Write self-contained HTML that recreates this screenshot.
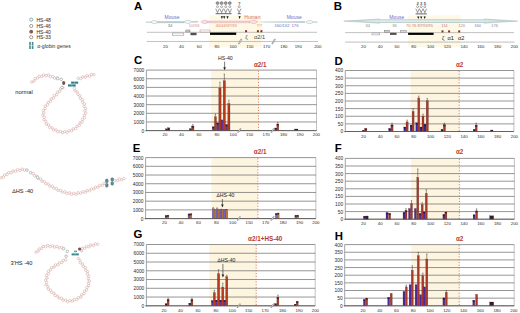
<!DOCTYPE html>
<html><head><meta charset="utf-8"><style>
html,body{margin:0;padding:0;background:#fff;overflow:hidden;}
svg{display:block;}
</style></head><body>
<svg width="520" height="313" viewBox="0 0 520 313" font-family='"Liberation Sans", sans-serif'>
<rect x="0.00" y="0.00" width="520.00" height="313.00" fill="#fff" />
<rect x="211.00" y="70.10" width="47.50" height="60.50" fill="#fdf5e0" />
<line x1="146.40" y1="70.10" x2="316.50" y2="70.10" stroke="rgba(80,80,80,0.6)" stroke-width="1.0" />
<line x1="146.40" y1="78.74" x2="316.50" y2="78.74" stroke="rgba(80,80,80,0.6)" stroke-width="1.0" />
<line x1="146.40" y1="87.39" x2="316.50" y2="87.39" stroke="rgba(80,80,80,0.6)" stroke-width="1.0" />
<line x1="146.40" y1="96.03" x2="316.50" y2="96.03" stroke="rgba(80,80,80,0.6)" stroke-width="1.0" />
<line x1="146.40" y1="104.67" x2="316.50" y2="104.67" stroke="rgba(80,80,80,0.6)" stroke-width="1.0" />
<line x1="146.40" y1="113.31" x2="316.50" y2="113.31" stroke="rgba(80,80,80,0.6)" stroke-width="1.0" />
<line x1="146.40" y1="121.96" x2="316.50" y2="121.96" stroke="rgba(80,80,80,0.6)" stroke-width="1.0" />
<line x1="146.40" y1="130.60" x2="316.50" y2="130.60" stroke="rgba(80,80,80,0.6)" stroke-width="1.0" />
<line x1="316.50" y1="70.10" x2="316.50" y2="130.60" stroke="rgba(80,80,80,0.6)" stroke-width="0.6" />
<line x1="258.50" y1="70.60" x2="258.50" y2="130.60" stroke="#d87850" stroke-width="0.9" stroke-dasharray="1.2,1.6"/>
<rect x="165.40" y="128.80" width="2.20" height="1.80" fill="#3a1e30" stroke="#3a1a1a" stroke-width="0.3" stroke-opacity="0.7"/>
<rect x="167.60" y="127.80" width="2.20" height="2.80" fill="#3a1e30" stroke="#3a1a1a" stroke-width="0.3" stroke-opacity="0.7"/>
<rect x="189.40" y="128.60" width="2.20" height="2.00" fill="#3a1e30" stroke="#3a1a1a" stroke-width="0.3" stroke-opacity="0.7"/>
<rect x="191.60" y="126.00" width="2.40" height="4.60" fill="#b43a1e" stroke="#3a1a1a" stroke-width="0.3" stroke-opacity="0.7"/>
<rect x="191.60" y="126.00" width="2.40" height="1.60" fill="#2a1418" opacity="0.75"/>
<line x1="192.80" y1="124.50" x2="192.80" y2="126.00" stroke="#333" stroke-width="0.5" />
<line x1="192.10" y1="124.50" x2="193.50" y2="124.50" stroke="#333" stroke-width="0.4" />
<rect x="212.30" y="126.80" width="2.20" height="3.80" fill="#62309f" stroke="#3a1a1a" stroke-width="0.3" stroke-opacity="0.7"/>
<rect x="212.30" y="126.80" width="2.20" height="1.60" fill="#2a1418" opacity="0.75"/>
<rect x="214.40" y="116.80" width="2.10" height="13.80" fill="#b43a1e" stroke="#3a1a1a" stroke-width="0.3" stroke-opacity="0.7"/>
<line x1="215.45" y1="114.00" x2="215.45" y2="116.80" stroke="#333" stroke-width="0.5" />
<line x1="214.75" y1="114.00" x2="216.15" y2="114.00" stroke="#333" stroke-width="0.4" />
<rect x="216.60" y="122.90" width="2.20" height="7.70" fill="#62309f" stroke="#3a1a1a" stroke-width="0.3" stroke-opacity="0.7"/>
<rect x="216.60" y="122.90" width="2.20" height="1.60" fill="#2a1418" opacity="0.75"/>
<rect x="218.80" y="88.10" width="2.30" height="42.50" fill="#b43a1e" stroke="#3a1a1a" stroke-width="0.3" stroke-opacity="0.7"/>
<line x1="219.95" y1="82.10" x2="219.95" y2="88.10" stroke="#333" stroke-width="0.5" />
<line x1="219.25" y1="82.10" x2="220.65" y2="82.10" stroke="#333" stroke-width="0.4" />
<rect x="221.00" y="119.90" width="2.20" height="10.70" fill="#62309f" stroke="#3a1a1a" stroke-width="0.3" stroke-opacity="0.7"/>
<rect x="223.20" y="80.70" width="2.30" height="49.90" fill="#b43a1e" stroke="#3a1a1a" stroke-width="0.3" stroke-opacity="0.7"/>
<line x1="224.35" y1="74.00" x2="224.35" y2="80.70" stroke="#333" stroke-width="0.5" />
<line x1="223.65" y1="74.00" x2="225.05" y2="74.00" stroke="#333" stroke-width="0.4" />
<rect x="225.50" y="124.60" width="2.20" height="6.00" fill="#62309f" stroke="#3a1a1a" stroke-width="0.3" stroke-opacity="0.7"/>
<rect x="225.50" y="124.60" width="2.20" height="1.60" fill="#2a1418" opacity="0.75"/>
<rect x="227.80" y="103.50" width="2.20" height="27.10" fill="#b43a1e" stroke="#3a1a1a" stroke-width="0.3" stroke-opacity="0.7"/>
<line x1="228.90" y1="100.20" x2="228.90" y2="103.50" stroke="#333" stroke-width="0.5" />
<line x1="228.20" y1="100.20" x2="229.60" y2="100.20" stroke="#333" stroke-width="0.4" />
<rect x="274.80" y="128.00" width="2.00" height="2.60" fill="#62309f" stroke="#3a1a1a" stroke-width="0.3" stroke-opacity="0.7"/>
<rect x="274.80" y="128.00" width="2.00" height="1.60" fill="#2a1418" opacity="0.75"/>
<rect x="276.80" y="124.00" width="2.00" height="6.60" fill="#b43a1e" stroke="#3a1a1a" stroke-width="0.3" stroke-opacity="0.7"/>
<rect x="276.80" y="124.00" width="2.00" height="1.60" fill="#2a1418" opacity="0.75"/>
<line x1="277.80" y1="122.50" x2="277.80" y2="124.00" stroke="#333" stroke-width="0.5" />
<line x1="277.10" y1="122.50" x2="278.50" y2="122.50" stroke="#333" stroke-width="0.4" />
<rect x="294.50" y="129.00" width="3.50" height="1.60" fill="#3a1e30" stroke="#3a1a1a" stroke-width="0.3" stroke-opacity="0.7"/>
<line x1="146.40" y1="70.10" x2="146.40" y2="131.40" stroke="#8a8a8a" stroke-width="0.8" />
<line x1="145.40" y1="130.60" x2="316.50" y2="130.60" stroke="#555" stroke-width="0.8" />
<path d="M237.60,132.30 L239.90,128.70 L241.10,128.70 L238.80,132.30 Z" fill="#fff" stroke="#555" stroke-width="0.45"/>
<path d="M270.90,132.30 L273.20,128.70 L274.40,128.70 L272.10,132.30 Z" fill="#fff" stroke="#555" stroke-width="0.45"/>
<text x="144.30" y="72.05" font-size="4.85" fill="#2a2a2a" text-anchor="end" font-weight="normal" >7000</text>
<text x="144.30" y="80.69" font-size="4.85" fill="#2a2a2a" text-anchor="end" font-weight="normal" >6000</text>
<text x="144.30" y="89.34" font-size="4.85" fill="#2a2a2a" text-anchor="end" font-weight="normal" >5000</text>
<text x="144.30" y="97.98" font-size="4.85" fill="#2a2a2a" text-anchor="end" font-weight="normal" >4000</text>
<text x="144.30" y="106.62" font-size="4.85" fill="#2a2a2a" text-anchor="end" font-weight="normal" >3000</text>
<text x="144.30" y="115.26" font-size="4.85" fill="#2a2a2a" text-anchor="end" font-weight="normal" >2000</text>
<text x="144.30" y="123.91" font-size="4.85" fill="#2a2a2a" text-anchor="end" font-weight="normal" >1000</text>
<text x="144.30" y="132.55" font-size="4.85" fill="#2a2a2a" text-anchor="end" font-weight="normal" >0</text>
<text x="165.00" y="136.25" font-size="4.35" fill="#2a2a2a" text-anchor="middle" font-weight="normal" >20</text>
<text x="181.50" y="136.25" font-size="4.35" fill="#2a2a2a" text-anchor="middle" font-weight="normal" >40</text>
<text x="199.00" y="136.25" font-size="4.35" fill="#2a2a2a" text-anchor="middle" font-weight="normal" >60</text>
<text x="217.00" y="136.25" font-size="4.35" fill="#2a2a2a" text-anchor="middle" font-weight="normal" >80</text>
<text x="233.20" y="136.25" font-size="4.35" fill="#2a2a2a" text-anchor="middle" font-weight="normal" >100</text>
<text x="249.60" y="136.25" font-size="4.35" fill="#2a2a2a" text-anchor="middle" font-weight="normal" >150</text>
<text x="266.10" y="136.25" font-size="4.35" fill="#2a2a2a" text-anchor="middle" font-weight="normal" >170</text>
<text x="283.50" y="136.25" font-size="4.35" fill="#2a2a2a" text-anchor="middle" font-weight="normal" >180</text>
<text x="300.00" y="136.25" font-size="4.35" fill="#2a2a2a" text-anchor="middle" font-weight="normal" >190</text>
<text x="316.40" y="136.25" font-size="4.35" fill="#2a2a2a" text-anchor="middle" font-weight="normal" >200</text>
<text x="254.00" y="67.30" font-size="6.3" fill="#b83a30" text-anchor="start" font-weight="bold" >&#945;2/1</text>
<text x="218.00" y="60.00" font-size="5.2" fill="#222" text-anchor="start" font-weight="normal" >HS-40</text>
<line x1="224.60" y1="61.60" x2="224.60" y2="68.50" stroke="#222" stroke-width="0.6" />
<path d="M223.3,67.2 L225.9,67.2 L224.6,70.2 Z" fill="#222"/>
<rect x="211.50" y="157.60" width="46.40" height="61.00" fill="#fdf5e0" />
<line x1="145.60" y1="157.60" x2="315.90" y2="157.60" stroke="rgba(80,80,80,0.6)" stroke-width="1.0" />
<line x1="145.60" y1="166.31" x2="315.90" y2="166.31" stroke="rgba(80,80,80,0.6)" stroke-width="1.0" />
<line x1="145.60" y1="175.03" x2="315.90" y2="175.03" stroke="rgba(80,80,80,0.6)" stroke-width="1.0" />
<line x1="145.60" y1="183.74" x2="315.90" y2="183.74" stroke="rgba(80,80,80,0.6)" stroke-width="1.0" />
<line x1="145.60" y1="192.46" x2="315.90" y2="192.46" stroke="rgba(80,80,80,0.6)" stroke-width="1.0" />
<line x1="145.60" y1="201.17" x2="315.90" y2="201.17" stroke="rgba(80,80,80,0.6)" stroke-width="1.0" />
<line x1="145.60" y1="209.89" x2="315.90" y2="209.89" stroke="rgba(80,80,80,0.6)" stroke-width="1.0" />
<line x1="145.60" y1="218.60" x2="315.90" y2="218.60" stroke="rgba(80,80,80,0.6)" stroke-width="1.0" />
<line x1="315.90" y1="157.60" x2="315.90" y2="218.60" stroke="rgba(80,80,80,0.6)" stroke-width="0.6" />
<line x1="257.90" y1="158.10" x2="257.90" y2="218.60" stroke="#d87850" stroke-width="0.9" stroke-dasharray="1.2,1.6"/>
<rect x="165.10" y="215.50" width="1.90" height="3.10" fill="#7a66c8" stroke="#3a1a1a" stroke-width="0.3" stroke-opacity="0.7"/>
<rect x="165.10" y="215.50" width="1.90" height="1.60" fill="#2a1418" opacity="0.75"/>
<rect x="167.00" y="215.10" width="1.90" height="3.50" fill="#c47a3a" stroke="#3a1a1a" stroke-width="0.3" stroke-opacity="0.7"/>
<rect x="167.00" y="215.10" width="1.90" height="1.60" fill="#2a1418" opacity="0.75"/>
<rect x="188.00" y="213.90" width="2.00" height="4.70" fill="#7a66c8" stroke="#3a1a1a" stroke-width="0.3" stroke-opacity="0.7"/>
<rect x="188.00" y="213.90" width="2.00" height="1.60" fill="#2a1418" opacity="0.75"/>
<rect x="190.00" y="213.70" width="1.90" height="4.90" fill="#c47a3a" stroke="#3a1a1a" stroke-width="0.3" stroke-opacity="0.7"/>
<rect x="190.00" y="213.70" width="1.90" height="1.60" fill="#2a1418" opacity="0.75"/>
<rect x="212.20" y="208.80" width="2.00" height="9.80" fill="#7a66c8" stroke="#3a1a1a" stroke-width="0.3" stroke-opacity="0.7"/>
<line x1="213.20" y1="207.50" x2="213.20" y2="208.80" stroke="#333" stroke-width="0.5" />
<line x1="212.50" y1="207.50" x2="213.90" y2="207.50" stroke="#333" stroke-width="0.4" />
<rect x="214.20" y="209.30" width="1.90" height="9.30" fill="#c47a3a" stroke="#3a1a1a" stroke-width="0.3" stroke-opacity="0.7"/>
<rect x="216.10" y="208.90" width="2.00" height="9.70" fill="#7a66c8" stroke="#3a1a1a" stroke-width="0.3" stroke-opacity="0.7"/>
<line x1="217.10" y1="207.80" x2="217.10" y2="208.90" stroke="#333" stroke-width="0.5" />
<line x1="216.40" y1="207.80" x2="217.80" y2="207.80" stroke="#333" stroke-width="0.4" />
<rect x="218.10" y="209.60" width="1.90" height="9.00" fill="#c47a3a" stroke="#3a1a1a" stroke-width="0.3" stroke-opacity="0.7"/>
<rect x="220.00" y="209.00" width="2.00" height="9.60" fill="#7a66c8" stroke="#3a1a1a" stroke-width="0.3" stroke-opacity="0.7"/>
<rect x="222.00" y="209.50" width="1.90" height="9.10" fill="#c47a3a" stroke="#3a1a1a" stroke-width="0.3" stroke-opacity="0.7"/>
<rect x="223.90" y="209.20" width="2.00" height="9.40" fill="#7a66c8" stroke="#3a1a1a" stroke-width="0.3" stroke-opacity="0.7"/>
<rect x="225.90" y="209.40" width="1.90" height="9.20" fill="#c47a3a" stroke="#3a1a1a" stroke-width="0.3" stroke-opacity="0.7"/>
<rect x="275.30" y="213.40" width="1.90" height="5.20" fill="#7a66c8" stroke="#3a1a1a" stroke-width="0.3" stroke-opacity="0.7"/>
<rect x="275.30" y="213.40" width="1.90" height="1.60" fill="#2a1418" opacity="0.75"/>
<rect x="277.20" y="213.00" width="1.90" height="5.60" fill="#c47a3a" stroke="#3a1a1a" stroke-width="0.3" stroke-opacity="0.7"/>
<rect x="277.20" y="213.00" width="1.90" height="1.60" fill="#2a1418" opacity="0.75"/>
<rect x="294.90" y="215.40" width="1.90" height="3.20" fill="#7a66c8" stroke="#3a1a1a" stroke-width="0.3" stroke-opacity="0.7"/>
<rect x="294.90" y="215.40" width="1.90" height="1.60" fill="#2a1418" opacity="0.75"/>
<rect x="296.80" y="215.10" width="1.90" height="3.50" fill="#c47a3a" stroke="#3a1a1a" stroke-width="0.3" stroke-opacity="0.7"/>
<rect x="296.80" y="215.10" width="1.90" height="1.60" fill="#2a1418" opacity="0.75"/>
<line x1="145.60" y1="157.60" x2="145.60" y2="219.40" stroke="#8a8a8a" stroke-width="0.8" />
<line x1="144.60" y1="218.60" x2="315.90" y2="218.60" stroke="#555" stroke-width="0.8" />
<path d="M237.00,220.30 L239.30,216.70 L240.50,216.70 L238.20,220.30 Z" fill="#fff" stroke="#555" stroke-width="0.45"/>
<path d="M270.70,220.30 L273.00,216.70 L274.20,216.70 L271.90,220.30 Z" fill="#fff" stroke="#555" stroke-width="0.45"/>
<text x="143.50" y="159.55" font-size="4.85" fill="#2a2a2a" text-anchor="end" font-weight="normal" >7000</text>
<text x="143.50" y="168.26" font-size="4.85" fill="#2a2a2a" text-anchor="end" font-weight="normal" >6000</text>
<text x="143.50" y="176.98" font-size="4.85" fill="#2a2a2a" text-anchor="end" font-weight="normal" >5000</text>
<text x="143.50" y="185.69" font-size="4.85" fill="#2a2a2a" text-anchor="end" font-weight="normal" >4000</text>
<text x="143.50" y="194.41" font-size="4.85" fill="#2a2a2a" text-anchor="end" font-weight="normal" >3000</text>
<text x="143.50" y="203.12" font-size="4.85" fill="#2a2a2a" text-anchor="end" font-weight="normal" >2000</text>
<text x="143.50" y="211.84" font-size="4.85" fill="#2a2a2a" text-anchor="end" font-weight="normal" >1000</text>
<text x="143.50" y="220.55" font-size="4.85" fill="#2a2a2a" text-anchor="end" font-weight="normal" >0</text>
<text x="164.50" y="224.25" font-size="4.35" fill="#2a2a2a" text-anchor="middle" font-weight="normal" >20</text>
<text x="181.00" y="224.25" font-size="4.35" fill="#2a2a2a" text-anchor="middle" font-weight="normal" >40</text>
<text x="198.50" y="224.25" font-size="4.35" fill="#2a2a2a" text-anchor="middle" font-weight="normal" >60</text>
<text x="216.50" y="224.25" font-size="4.35" fill="#2a2a2a" text-anchor="middle" font-weight="normal" >80</text>
<text x="232.70" y="224.25" font-size="4.35" fill="#2a2a2a" text-anchor="middle" font-weight="normal" >100</text>
<text x="249.10" y="224.25" font-size="4.35" fill="#2a2a2a" text-anchor="middle" font-weight="normal" >150</text>
<text x="265.60" y="224.25" font-size="4.35" fill="#2a2a2a" text-anchor="middle" font-weight="normal" >170</text>
<text x="283.00" y="224.25" font-size="4.35" fill="#2a2a2a" text-anchor="middle" font-weight="normal" >180</text>
<text x="299.50" y="224.25" font-size="4.35" fill="#2a2a2a" text-anchor="middle" font-weight="normal" >190</text>
<text x="315.90" y="224.25" font-size="4.35" fill="#2a2a2a" text-anchor="middle" font-weight="normal" >200</text>
<text x="253.80" y="154.40" font-size="6.3" fill="#b83a30" text-anchor="start" font-weight="bold" >&#945;2/1</text>
<text x="216.60" y="197.00" font-size="5.2" fill="#222" text-anchor="start" font-weight="normal" >&#8710;HS-40</text>
<line x1="222.40" y1="199.00" x2="222.40" y2="205.50" stroke="#222" stroke-width="0.6" />
<path d="M221.1,204.4 L223.7,204.4 L222.4,207.4 Z" fill="#222"/>
<rect x="209.30" y="244.50" width="46.90" height="61.30" fill="#fdf5e0" />
<line x1="146.40" y1="244.50" x2="315.20" y2="244.50" stroke="rgba(80,80,80,0.6)" stroke-width="1.0" />
<line x1="146.40" y1="253.26" x2="315.20" y2="253.26" stroke="rgba(80,80,80,0.6)" stroke-width="1.0" />
<line x1="146.40" y1="262.01" x2="315.20" y2="262.01" stroke="rgba(80,80,80,0.6)" stroke-width="1.0" />
<line x1="146.40" y1="270.77" x2="315.20" y2="270.77" stroke="rgba(80,80,80,0.6)" stroke-width="1.0" />
<line x1="146.40" y1="279.53" x2="315.20" y2="279.53" stroke="rgba(80,80,80,0.6)" stroke-width="1.0" />
<line x1="146.40" y1="288.29" x2="315.20" y2="288.29" stroke="rgba(80,80,80,0.6)" stroke-width="1.0" />
<line x1="146.40" y1="297.04" x2="315.20" y2="297.04" stroke="rgba(80,80,80,0.6)" stroke-width="1.0" />
<line x1="146.40" y1="305.80" x2="315.20" y2="305.80" stroke="rgba(80,80,80,0.6)" stroke-width="1.0" />
<line x1="315.20" y1="244.50" x2="315.20" y2="305.80" stroke="rgba(80,80,80,0.6)" stroke-width="0.6" />
<line x1="256.20" y1="245.00" x2="256.20" y2="305.80" stroke="#d87850" stroke-width="0.9" stroke-dasharray="1.2,1.6"/>
<rect x="165.10" y="303.70" width="2.00" height="2.10" fill="#62309f" stroke="#3a1a1a" stroke-width="0.3" stroke-opacity="0.7"/>
<rect x="165.10" y="303.70" width="2.00" height="1.60" fill="#2a1418" opacity="0.75"/>
<rect x="167.10" y="299.50" width="2.00" height="6.30" fill="#b43a1e" stroke="#3a1a1a" stroke-width="0.3" stroke-opacity="0.7"/>
<rect x="167.10" y="299.50" width="2.00" height="1.60" fill="#2a1418" opacity="0.75"/>
<line x1="168.10" y1="298.00" x2="168.10" y2="299.50" stroke="#333" stroke-width="0.5" />
<line x1="167.40" y1="298.00" x2="168.80" y2="298.00" stroke="#333" stroke-width="0.4" />
<rect x="188.80" y="303.20" width="2.00" height="2.60" fill="#62309f" stroke="#3a1a1a" stroke-width="0.3" stroke-opacity="0.7"/>
<rect x="188.80" y="303.20" width="2.00" height="1.60" fill="#2a1418" opacity="0.75"/>
<rect x="190.90" y="299.50" width="2.00" height="6.30" fill="#b43a1e" stroke="#3a1a1a" stroke-width="0.3" stroke-opacity="0.7"/>
<rect x="190.90" y="299.50" width="2.00" height="1.60" fill="#2a1418" opacity="0.75"/>
<line x1="191.90" y1="298.00" x2="191.90" y2="299.50" stroke="#333" stroke-width="0.5" />
<line x1="191.20" y1="298.00" x2="192.60" y2="298.00" stroke="#333" stroke-width="0.4" />
<rect x="211.40" y="300.70" width="1.90" height="5.10" fill="#62309f" stroke="#3a1a1a" stroke-width="0.3" stroke-opacity="0.7"/>
<rect x="211.40" y="300.70" width="1.90" height="1.60" fill="#2a1418" opacity="0.75"/>
<rect x="213.30" y="292.70" width="2.10" height="13.10" fill="#b43a1e" stroke="#3a1a1a" stroke-width="0.3" stroke-opacity="0.7"/>
<line x1="214.35" y1="290.30" x2="214.35" y2="292.70" stroke="#333" stroke-width="0.5" />
<line x1="213.65" y1="290.30" x2="215.05" y2="290.30" stroke="#333" stroke-width="0.4" />
<rect x="215.40" y="300.20" width="2.00" height="5.60" fill="#62309f" stroke="#3a1a1a" stroke-width="0.3" stroke-opacity="0.7"/>
<rect x="215.40" y="300.20" width="2.00" height="1.60" fill="#2a1418" opacity="0.75"/>
<rect x="217.40" y="273.60" width="2.30" height="32.20" fill="#b43a1e" stroke="#3a1a1a" stroke-width="0.3" stroke-opacity="0.7"/>
<line x1="218.55" y1="269.60" x2="218.55" y2="273.60" stroke="#333" stroke-width="0.5" />
<line x1="217.85" y1="269.60" x2="219.25" y2="269.60" stroke="#333" stroke-width="0.4" />
<rect x="219.70" y="300.20" width="2.00" height="5.60" fill="#62309f" stroke="#3a1a1a" stroke-width="0.3" stroke-opacity="0.7"/>
<rect x="219.70" y="300.20" width="2.00" height="1.60" fill="#2a1418" opacity="0.75"/>
<rect x="221.70" y="287.10" width="2.10" height="18.70" fill="#b43a1e" stroke="#3a1a1a" stroke-width="0.3" stroke-opacity="0.7"/>
<line x1="222.75" y1="283.10" x2="222.75" y2="287.10" stroke="#333" stroke-width="0.5" />
<line x1="222.05" y1="283.10" x2="223.45" y2="283.10" stroke="#333" stroke-width="0.4" />
<rect x="223.80" y="300.20" width="1.90" height="5.60" fill="#62309f" stroke="#3a1a1a" stroke-width="0.3" stroke-opacity="0.7"/>
<rect x="223.80" y="300.20" width="1.90" height="1.60" fill="#2a1418" opacity="0.75"/>
<rect x="225.70" y="276.70" width="2.10" height="29.10" fill="#b43a1e" stroke="#3a1a1a" stroke-width="0.3" stroke-opacity="0.7"/>
<line x1="226.75" y1="275.20" x2="226.75" y2="276.70" stroke="#333" stroke-width="0.5" />
<line x1="226.05" y1="275.20" x2="227.45" y2="275.20" stroke="#333" stroke-width="0.4" />
<rect x="274.60" y="303.70" width="2.00" height="2.10" fill="#62309f" stroke="#3a1a1a" stroke-width="0.3" stroke-opacity="0.7"/>
<rect x="274.60" y="303.70" width="2.00" height="1.60" fill="#2a1418" opacity="0.75"/>
<rect x="276.90" y="297.30" width="2.00" height="8.50" fill="#b43a1e" stroke="#3a1a1a" stroke-width="0.3" stroke-opacity="0.7"/>
<rect x="276.90" y="297.30" width="2.00" height="1.60" fill="#2a1418" opacity="0.75"/>
<line x1="277.90" y1="295.00" x2="277.90" y2="297.30" stroke="#333" stroke-width="0.5" />
<line x1="277.20" y1="295.00" x2="278.60" y2="295.00" stroke="#333" stroke-width="0.4" />
<rect x="294.20" y="304.20" width="2.00" height="1.60" fill="#62309f" stroke="#3a1a1a" stroke-width="0.3" stroke-opacity="0.7"/>
<rect x="294.20" y="304.20" width="2.00" height="1.60" fill="#2a1418" opacity="0.75"/>
<rect x="296.20" y="301.30" width="2.00" height="4.50" fill="#b43a1e" stroke="#3a1a1a" stroke-width="0.3" stroke-opacity="0.7"/>
<rect x="296.20" y="301.30" width="2.00" height="1.60" fill="#2a1418" opacity="0.75"/>
<line x1="146.40" y1="244.50" x2="146.40" y2="306.60" stroke="#8a8a8a" stroke-width="0.8" />
<line x1="145.40" y1="305.80" x2="315.20" y2="305.80" stroke="#555" stroke-width="0.8" />
<path d="M237.00,307.50 L239.30,303.90 L240.50,303.90 L238.20,307.50 Z" fill="#fff" stroke="#555" stroke-width="0.45"/>
<path d="M270.70,307.50 L273.00,303.90 L274.20,303.90 L271.90,307.50 Z" fill="#fff" stroke="#555" stroke-width="0.45"/>
<text x="144.30" y="246.45" font-size="4.85" fill="#2a2a2a" text-anchor="end" font-weight="normal" >7000</text>
<text x="144.30" y="255.21" font-size="4.85" fill="#2a2a2a" text-anchor="end" font-weight="normal" >6000</text>
<text x="144.30" y="263.96" font-size="4.85" fill="#2a2a2a" text-anchor="end" font-weight="normal" >5000</text>
<text x="144.30" y="272.72" font-size="4.85" fill="#2a2a2a" text-anchor="end" font-weight="normal" >4000</text>
<text x="144.30" y="281.48" font-size="4.85" fill="#2a2a2a" text-anchor="end" font-weight="normal" >3000</text>
<text x="144.30" y="290.24" font-size="4.85" fill="#2a2a2a" text-anchor="end" font-weight="normal" >2000</text>
<text x="144.30" y="298.99" font-size="4.85" fill="#2a2a2a" text-anchor="end" font-weight="normal" >1000</text>
<text x="144.30" y="307.75" font-size="4.85" fill="#2a2a2a" text-anchor="end" font-weight="normal" >0</text>
<text x="164.00" y="311.85" font-size="4.35" fill="#2a2a2a" text-anchor="middle" font-weight="normal" >20</text>
<text x="180.50" y="311.85" font-size="4.35" fill="#2a2a2a" text-anchor="middle" font-weight="normal" >40</text>
<text x="198.00" y="311.85" font-size="4.35" fill="#2a2a2a" text-anchor="middle" font-weight="normal" >60</text>
<text x="216.00" y="311.85" font-size="4.35" fill="#2a2a2a" text-anchor="middle" font-weight="normal" >80</text>
<text x="232.20" y="311.85" font-size="4.35" fill="#2a2a2a" text-anchor="middle" font-weight="normal" >100</text>
<text x="248.60" y="311.85" font-size="4.35" fill="#2a2a2a" text-anchor="middle" font-weight="normal" >150</text>
<text x="265.10" y="311.85" font-size="4.35" fill="#2a2a2a" text-anchor="middle" font-weight="normal" >170</text>
<text x="282.50" y="311.85" font-size="4.35" fill="#2a2a2a" text-anchor="middle" font-weight="normal" >180</text>
<text x="299.00" y="311.85" font-size="4.35" fill="#2a2a2a" text-anchor="middle" font-weight="normal" >190</text>
<text x="315.40" y="311.85" font-size="4.35" fill="#2a2a2a" text-anchor="middle" font-weight="normal" >200</text>
<text x="248.10" y="241.10" font-size="6.3" fill="#b83a30" text-anchor="start" font-weight="bold" >&#945;2/1+HS-40</text>
<text x="217.60" y="262.40" font-size="5.2" fill="#222" text-anchor="start" font-weight="normal" >&#8710;HS-40</text>
<line x1="222.90" y1="264.00" x2="222.90" y2="275.50" stroke="#222" stroke-width="0.6" />
<path d="M221.6,274.5 L224.2,274.5 L222.9,277.5 Z" fill="#222"/>
<rect x="410.50" y="70.50" width="48.70" height="61.00" fill="#fdf5e0" />
<line x1="345.30" y1="70.50" x2="513.90" y2="70.50" stroke="rgba(80,80,80,0.6)" stroke-width="1.0" />
<line x1="345.30" y1="78.12" x2="513.90" y2="78.12" stroke="rgba(80,80,80,0.6)" stroke-width="1.0" />
<line x1="345.30" y1="85.75" x2="513.90" y2="85.75" stroke="rgba(80,80,80,0.6)" stroke-width="1.0" />
<line x1="345.30" y1="93.38" x2="513.90" y2="93.38" stroke="rgba(80,80,80,0.6)" stroke-width="1.0" />
<line x1="345.30" y1="101.00" x2="513.90" y2="101.00" stroke="rgba(80,80,80,0.6)" stroke-width="1.0" />
<line x1="345.30" y1="108.62" x2="513.90" y2="108.62" stroke="rgba(80,80,80,0.6)" stroke-width="1.0" />
<line x1="345.30" y1="116.25" x2="513.90" y2="116.25" stroke="rgba(80,80,80,0.6)" stroke-width="1.0" />
<line x1="345.30" y1="123.88" x2="513.90" y2="123.88" stroke="rgba(80,80,80,0.6)" stroke-width="1.0" />
<line x1="345.30" y1="131.50" x2="513.90" y2="131.50" stroke="rgba(80,80,80,0.6)" stroke-width="1.0" />
<line x1="513.90" y1="70.50" x2="513.90" y2="131.50" stroke="rgba(80,80,80,0.6)" stroke-width="0.6" />
<line x1="459.20" y1="71.00" x2="459.20" y2="131.50" stroke="#d87850" stroke-width="0.9" stroke-dasharray="1.2,1.6"/>
<rect x="362.50" y="130.30" width="2.00" height="1.20" fill="#2c2aa6" stroke="#3a1a1a" stroke-width="0.3" stroke-opacity="0.7"/>
<rect x="362.50" y="130.30" width="2.00" height="1.20" fill="#2a1418" opacity="0.75"/>
<rect x="364.70" y="128.50" width="2.20" height="3.00" fill="#a8382c" stroke="#3a1a1a" stroke-width="0.3" stroke-opacity="0.7"/>
<rect x="364.70" y="128.50" width="2.20" height="1.60" fill="#2a1418" opacity="0.75"/>
<rect x="388.70" y="128.50" width="2.00" height="3.00" fill="#2c2aa6" stroke="#3a1a1a" stroke-width="0.3" stroke-opacity="0.7"/>
<rect x="388.70" y="128.50" width="2.00" height="1.60" fill="#2a1418" opacity="0.75"/>
<rect x="390.90" y="124.90" width="2.20" height="6.60" fill="#a8382c" stroke="#3a1a1a" stroke-width="0.3" stroke-opacity="0.7"/>
<rect x="390.90" y="124.90" width="2.20" height="1.60" fill="#2a1418" opacity="0.75"/>
<line x1="392.00" y1="123.00" x2="392.00" y2="124.90" stroke="#333" stroke-width="0.5" />
<line x1="391.30" y1="123.00" x2="392.70" y2="123.00" stroke="#333" stroke-width="0.4" />
<rect x="403.80" y="127.00" width="2.00" height="4.50" fill="#2c2aa6" stroke="#3a1a1a" stroke-width="0.3" stroke-opacity="0.7"/>
<rect x="403.80" y="127.00" width="2.00" height="1.60" fill="#2a1418" opacity="0.75"/>
<rect x="406.00" y="121.90" width="2.20" height="9.60" fill="#a8382c" stroke="#3a1a1a" stroke-width="0.3" stroke-opacity="0.7"/>
<line x1="407.10" y1="120.00" x2="407.10" y2="121.90" stroke="#333" stroke-width="0.5" />
<line x1="406.40" y1="120.00" x2="407.80" y2="120.00" stroke="#333" stroke-width="0.4" />
<rect x="410.10" y="125.10" width="2.00" height="6.40" fill="#2c2aa6" stroke="#3a1a1a" stroke-width="0.3" stroke-opacity="0.7"/>
<rect x="410.10" y="125.10" width="2.00" height="1.60" fill="#2a1418" opacity="0.75"/>
<rect x="412.10" y="111.40" width="2.00" height="20.10" fill="#a8382c" stroke="#3a1a1a" stroke-width="0.3" stroke-opacity="0.7"/>
<line x1="413.10" y1="108.70" x2="413.10" y2="111.40" stroke="#333" stroke-width="0.5" />
<line x1="412.40" y1="108.70" x2="413.80" y2="108.70" stroke="#333" stroke-width="0.4" />
<rect x="415.80" y="122.80" width="2.00" height="8.70" fill="#2c2aa6" stroke="#3a1a1a" stroke-width="0.3" stroke-opacity="0.7"/>
<rect x="415.80" y="122.80" width="2.00" height="1.60" fill="#2a1418" opacity="0.75"/>
<rect x="417.80" y="98.00" width="2.00" height="33.50" fill="#a8382c" stroke="#3a1a1a" stroke-width="0.3" stroke-opacity="0.7"/>
<line x1="418.80" y1="96.00" x2="418.80" y2="98.00" stroke="#333" stroke-width="0.5" />
<line x1="418.10" y1="96.00" x2="419.50" y2="96.00" stroke="#333" stroke-width="0.4" />
<rect x="420.00" y="127.00" width="2.00" height="4.50" fill="#2c2aa6" stroke="#3a1a1a" stroke-width="0.3" stroke-opacity="0.7"/>
<rect x="420.00" y="127.00" width="2.00" height="1.60" fill="#2a1418" opacity="0.75"/>
<rect x="422.00" y="116.10" width="2.00" height="15.40" fill="#a8382c" stroke="#3a1a1a" stroke-width="0.3" stroke-opacity="0.7"/>
<line x1="423.00" y1="114.00" x2="423.00" y2="116.10" stroke="#333" stroke-width="0.5" />
<line x1="422.30" y1="114.00" x2="423.70" y2="114.00" stroke="#333" stroke-width="0.4" />
<rect x="424.00" y="124.40" width="2.00" height="7.10" fill="#2c2aa6" stroke="#3a1a1a" stroke-width="0.3" stroke-opacity="0.7"/>
<rect x="424.00" y="124.40" width="2.00" height="1.60" fill="#2a1418" opacity="0.75"/>
<rect x="426.20" y="100.80" width="2.20" height="30.70" fill="#a8382c" stroke="#3a1a1a" stroke-width="0.3" stroke-opacity="0.7"/>
<line x1="427.30" y1="98.50" x2="427.30" y2="100.80" stroke="#333" stroke-width="0.5" />
<line x1="426.60" y1="98.50" x2="428.00" y2="98.50" stroke="#333" stroke-width="0.4" />
<rect x="441.00" y="129.40" width="2.00" height="2.10" fill="#2c2aa6" stroke="#3a1a1a" stroke-width="0.3" stroke-opacity="0.7"/>
<rect x="441.00" y="129.40" width="2.00" height="1.60" fill="#2a1418" opacity="0.75"/>
<rect x="443.30" y="124.70" width="2.20" height="6.80" fill="#a8382c" stroke="#3a1a1a" stroke-width="0.3" stroke-opacity="0.7"/>
<rect x="443.30" y="124.70" width="2.20" height="1.60" fill="#2a1418" opacity="0.75"/>
<line x1="444.40" y1="123.00" x2="444.40" y2="124.70" stroke="#333" stroke-width="0.5" />
<line x1="443.70" y1="123.00" x2="445.10" y2="123.00" stroke="#333" stroke-width="0.4" />
<rect x="473.30" y="129.40" width="2.00" height="2.10" fill="#2c2aa6" stroke="#3a1a1a" stroke-width="0.3" stroke-opacity="0.7"/>
<rect x="473.30" y="129.40" width="2.00" height="1.60" fill="#2a1418" opacity="0.75"/>
<rect x="475.20" y="125.10" width="2.00" height="6.40" fill="#a8382c" stroke="#3a1a1a" stroke-width="0.3" stroke-opacity="0.7"/>
<rect x="475.20" y="125.10" width="2.00" height="1.60" fill="#2a1418" opacity="0.75"/>
<line x1="476.20" y1="123.00" x2="476.20" y2="125.10" stroke="#333" stroke-width="0.5" />
<line x1="475.50" y1="123.00" x2="476.90" y2="123.00" stroke="#333" stroke-width="0.4" />
<rect x="490.50" y="130.00" width="2.50" height="1.50" fill="#2a1a2a" stroke="#3a1a1a" stroke-width="0.3" stroke-opacity="0.7"/>
<line x1="345.30" y1="70.50" x2="345.30" y2="132.30" stroke="#8a8a8a" stroke-width="0.8" />
<line x1="344.30" y1="131.50" x2="513.90" y2="131.50" stroke="#555" stroke-width="0.8" />
<text x="343.20" y="72.45" font-size="4.85" fill="#2a2a2a" text-anchor="end" font-weight="normal" >400</text>
<text x="343.20" y="80.08" font-size="4.85" fill="#2a2a2a" text-anchor="end" font-weight="normal" >350</text>
<text x="343.20" y="87.70" font-size="4.85" fill="#2a2a2a" text-anchor="end" font-weight="normal" >300</text>
<text x="343.20" y="95.33" font-size="4.85" fill="#2a2a2a" text-anchor="end" font-weight="normal" >250</text>
<text x="343.20" y="102.95" font-size="4.85" fill="#2a2a2a" text-anchor="end" font-weight="normal" >200</text>
<text x="343.20" y="110.58" font-size="4.85" fill="#2a2a2a" text-anchor="end" font-weight="normal" >150</text>
<text x="343.20" y="118.20" font-size="4.85" fill="#2a2a2a" text-anchor="end" font-weight="normal" >100</text>
<text x="343.20" y="125.83" font-size="4.85" fill="#2a2a2a" text-anchor="end" font-weight="normal" >50</text>
<text x="343.20" y="133.45" font-size="4.85" fill="#2a2a2a" text-anchor="end" font-weight="normal" >0</text>
<text x="363.47" y="137.50" font-size="4.35" fill="#2a2a2a" text-anchor="middle" font-weight="normal" >20</text>
<text x="380.23" y="137.50" font-size="4.35" fill="#2a2a2a" text-anchor="middle" font-weight="normal" >40</text>
<text x="397.00" y="137.50" font-size="4.35" fill="#2a2a2a" text-anchor="middle" font-weight="normal" >60</text>
<text x="413.76" y="137.50" font-size="4.35" fill="#2a2a2a" text-anchor="middle" font-weight="normal" >80</text>
<text x="430.53" y="137.50" font-size="4.35" fill="#2a2a2a" text-anchor="middle" font-weight="normal" >100</text>
<text x="447.30" y="137.50" font-size="4.35" fill="#2a2a2a" text-anchor="middle" font-weight="normal" >120</text>
<text x="464.06" y="137.50" font-size="4.35" fill="#2a2a2a" text-anchor="middle" font-weight="normal" >140</text>
<text x="480.83" y="137.50" font-size="4.35" fill="#2a2a2a" text-anchor="middle" font-weight="normal" >160</text>
<text x="497.59" y="137.50" font-size="4.35" fill="#2a2a2a" text-anchor="middle" font-weight="normal" >180</text>
<text x="514.36" y="137.50" font-size="4.35" fill="#2a2a2a" text-anchor="middle" font-weight="normal" >200</text>
<text x="455.90" y="67.10" font-size="6.3" fill="#b83a30" text-anchor="start" font-weight="bold" >&#945;2</text>
<rect x="410.90" y="158.40" width="48.50" height="60.80" fill="#fdf5e0" />
<line x1="345.30" y1="158.40" x2="514.40" y2="158.40" stroke="rgba(80,80,80,0.6)" stroke-width="1.0" />
<line x1="345.30" y1="166.00" x2="514.40" y2="166.00" stroke="rgba(80,80,80,0.6)" stroke-width="1.0" />
<line x1="345.30" y1="173.60" x2="514.40" y2="173.60" stroke="rgba(80,80,80,0.6)" stroke-width="1.0" />
<line x1="345.30" y1="181.20" x2="514.40" y2="181.20" stroke="rgba(80,80,80,0.6)" stroke-width="1.0" />
<line x1="345.30" y1="188.80" x2="514.40" y2="188.80" stroke="rgba(80,80,80,0.6)" stroke-width="1.0" />
<line x1="345.30" y1="196.40" x2="514.40" y2="196.40" stroke="rgba(80,80,80,0.6)" stroke-width="1.0" />
<line x1="345.30" y1="204.00" x2="514.40" y2="204.00" stroke="rgba(80,80,80,0.6)" stroke-width="1.0" />
<line x1="345.30" y1="211.60" x2="514.40" y2="211.60" stroke="rgba(80,80,80,0.6)" stroke-width="1.0" />
<line x1="345.30" y1="219.20" x2="514.40" y2="219.20" stroke="rgba(80,80,80,0.6)" stroke-width="1.0" />
<line x1="514.40" y1="158.40" x2="514.40" y2="219.20" stroke="rgba(80,80,80,0.6)" stroke-width="0.6" />
<line x1="459.40" y1="158.90" x2="459.40" y2="219.20" stroke="#d87850" stroke-width="0.9" stroke-dasharray="1.2,1.6"/>
<rect x="363.50" y="216.20" width="2.30" height="3.00" fill="#4a2aa0" stroke="#3a1a1a" stroke-width="0.3" stroke-opacity="0.7"/>
<rect x="363.50" y="216.20" width="2.30" height="1.60" fill="#2a1418" opacity="0.75"/>
<rect x="365.80" y="216.00" width="2.40" height="3.20" fill="#3a1a2a" stroke="#3a1a1a" stroke-width="0.3" stroke-opacity="0.7"/>
<rect x="386.00" y="212.60" width="2.00" height="6.60" fill="#4a2aa0" stroke="#3a1a1a" stroke-width="0.3" stroke-opacity="0.7"/>
<rect x="386.00" y="212.60" width="2.00" height="1.60" fill="#2a1418" opacity="0.75"/>
<rect x="388.50" y="213.30" width="2.20" height="5.90" fill="#a8382c" stroke="#3a1a1a" stroke-width="0.3" stroke-opacity="0.7"/>
<rect x="388.50" y="213.30" width="2.20" height="1.60" fill="#2a1418" opacity="0.75"/>
<rect x="403.00" y="212.50" width="2.00" height="6.70" fill="#4a2aa0" stroke="#3a1a1a" stroke-width="0.3" stroke-opacity="0.7"/>
<rect x="403.00" y="212.50" width="2.00" height="1.60" fill="#2a1418" opacity="0.75"/>
<rect x="405.00" y="210.50" width="2.00" height="8.70" fill="#a8382c" stroke="#3a1a1a" stroke-width="0.3" stroke-opacity="0.7"/>
<rect x="405.00" y="210.50" width="2.00" height="1.60" fill="#2a1418" opacity="0.75"/>
<line x1="406.00" y1="208.60" x2="406.00" y2="210.50" stroke="#333" stroke-width="0.5" />
<line x1="405.30" y1="208.60" x2="406.70" y2="208.60" stroke="#333" stroke-width="0.4" />
<rect x="408.50" y="208.50" width="2.00" height="10.70" fill="#4a2aa0" stroke="#3a1a1a" stroke-width="0.3" stroke-opacity="0.7"/>
<rect x="410.50" y="203.60" width="2.00" height="15.60" fill="#a8382c" stroke="#3a1a1a" stroke-width="0.3" stroke-opacity="0.7"/>
<line x1="411.50" y1="200.60" x2="411.50" y2="203.60" stroke="#333" stroke-width="0.5" />
<line x1="410.80" y1="200.60" x2="412.20" y2="200.60" stroke="#333" stroke-width="0.4" />
<rect x="414.40" y="208.50" width="2.00" height="10.70" fill="#4a2aa0" stroke="#3a1a1a" stroke-width="0.3" stroke-opacity="0.7"/>
<rect x="416.80" y="177.40" width="2.00" height="41.80" fill="#a8382c" stroke="#3a1a1a" stroke-width="0.3" stroke-opacity="0.7"/>
<line x1="417.80" y1="168.90" x2="417.80" y2="177.40" stroke="#333" stroke-width="0.5" />
<line x1="417.10" y1="168.90" x2="418.50" y2="168.90" stroke="#333" stroke-width="0.4" />
<rect x="419.20" y="213.50" width="2.00" height="5.70" fill="#4a2aa0" stroke="#3a1a1a" stroke-width="0.3" stroke-opacity="0.7"/>
<rect x="419.20" y="213.50" width="2.00" height="1.60" fill="#2a1418" opacity="0.75"/>
<rect x="421.20" y="204.60" width="2.00" height="14.60" fill="#a8382c" stroke="#3a1a1a" stroke-width="0.3" stroke-opacity="0.7"/>
<line x1="422.20" y1="202.60" x2="422.20" y2="204.60" stroke="#333" stroke-width="0.5" />
<line x1="421.50" y1="202.60" x2="422.90" y2="202.60" stroke="#333" stroke-width="0.4" />
<rect x="423.20" y="211.90" width="2.00" height="7.30" fill="#4a2aa0" stroke="#3a1a1a" stroke-width="0.3" stroke-opacity="0.7"/>
<rect x="423.20" y="211.90" width="2.00" height="1.60" fill="#2a1418" opacity="0.75"/>
<rect x="425.30" y="193.30" width="2.00" height="25.90" fill="#a8382c" stroke="#3a1a1a" stroke-width="0.3" stroke-opacity="0.7"/>
<line x1="426.30" y1="189.70" x2="426.30" y2="193.30" stroke="#333" stroke-width="0.5" />
<line x1="425.60" y1="189.70" x2="427.00" y2="189.70" stroke="#333" stroke-width="0.4" />
<rect x="442.90" y="214.50" width="2.00" height="4.70" fill="#4a2aa0" stroke="#3a1a1a" stroke-width="0.3" stroke-opacity="0.7"/>
<rect x="442.90" y="214.50" width="2.00" height="1.60" fill="#2a1418" opacity="0.75"/>
<rect x="444.90" y="212.00" width="2.00" height="7.20" fill="#a8382c" stroke="#3a1a1a" stroke-width="0.3" stroke-opacity="0.7"/>
<rect x="444.90" y="212.00" width="2.00" height="1.60" fill="#2a1418" opacity="0.75"/>
<rect x="473.10" y="214.80" width="2.00" height="4.40" fill="#4a2aa0" stroke="#3a1a1a" stroke-width="0.3" stroke-opacity="0.7"/>
<rect x="473.10" y="214.80" width="2.00" height="1.60" fill="#2a1418" opacity="0.75"/>
<rect x="475.60" y="210.90" width="2.00" height="8.30" fill="#a8382c" stroke="#3a1a1a" stroke-width="0.3" stroke-opacity="0.7"/>
<rect x="475.60" y="210.90" width="2.00" height="1.60" fill="#2a1418" opacity="0.75"/>
<line x1="476.60" y1="208.80" x2="476.60" y2="210.90" stroke="#333" stroke-width="0.5" />
<line x1="475.90" y1="208.80" x2="477.30" y2="208.80" stroke="#333" stroke-width="0.4" />
<rect x="489.60" y="215.80" width="4.10" height="3.40" fill="#3a1a2a" stroke="#3a1a1a" stroke-width="0.3" stroke-opacity="0.7"/>
<line x1="345.30" y1="158.40" x2="345.30" y2="220.00" stroke="#8a8a8a" stroke-width="0.8" />
<line x1="344.30" y1="219.20" x2="514.40" y2="219.20" stroke="#555" stroke-width="0.8" />
<text x="343.20" y="160.35" font-size="4.85" fill="#2a2a2a" text-anchor="end" font-weight="normal" >400</text>
<text x="343.20" y="167.95" font-size="4.85" fill="#2a2a2a" text-anchor="end" font-weight="normal" >350</text>
<text x="343.20" y="175.55" font-size="4.85" fill="#2a2a2a" text-anchor="end" font-weight="normal" >300</text>
<text x="343.20" y="183.15" font-size="4.85" fill="#2a2a2a" text-anchor="end" font-weight="normal" >250</text>
<text x="343.20" y="190.75" font-size="4.85" fill="#2a2a2a" text-anchor="end" font-weight="normal" >200</text>
<text x="343.20" y="198.35" font-size="4.85" fill="#2a2a2a" text-anchor="end" font-weight="normal" >150</text>
<text x="343.20" y="205.95" font-size="4.85" fill="#2a2a2a" text-anchor="end" font-weight="normal" >100</text>
<text x="343.20" y="213.55" font-size="4.85" fill="#2a2a2a" text-anchor="end" font-weight="normal" >50</text>
<text x="343.20" y="221.15" font-size="4.85" fill="#2a2a2a" text-anchor="end" font-weight="normal" >0</text>
<text x="363.47" y="224.55" font-size="4.35" fill="#2a2a2a" text-anchor="middle" font-weight="normal" >20</text>
<text x="380.23" y="224.55" font-size="4.35" fill="#2a2a2a" text-anchor="middle" font-weight="normal" >40</text>
<text x="397.00" y="224.55" font-size="4.35" fill="#2a2a2a" text-anchor="middle" font-weight="normal" >60</text>
<text x="413.76" y="224.55" font-size="4.35" fill="#2a2a2a" text-anchor="middle" font-weight="normal" >80</text>
<text x="430.53" y="224.55" font-size="4.35" fill="#2a2a2a" text-anchor="middle" font-weight="normal" >100</text>
<text x="447.30" y="224.55" font-size="4.35" fill="#2a2a2a" text-anchor="middle" font-weight="normal" >120</text>
<text x="464.06" y="224.55" font-size="4.35" fill="#2a2a2a" text-anchor="middle" font-weight="normal" >140</text>
<text x="480.83" y="224.55" font-size="4.35" fill="#2a2a2a" text-anchor="middle" font-weight="normal" >160</text>
<text x="497.59" y="224.55" font-size="4.35" fill="#2a2a2a" text-anchor="middle" font-weight="normal" >180</text>
<text x="514.36" y="224.55" font-size="4.35" fill="#2a2a2a" text-anchor="middle" font-weight="normal" >200</text>
<text x="456.00" y="154.40" font-size="6.3" fill="#b83a30" text-anchor="start" font-weight="bold" >&#945;2</text>
<rect x="411.20" y="244.60" width="48.00" height="61.20" fill="#fdf5e0" />
<line x1="344.70" y1="244.60" x2="514.20" y2="244.60" stroke="rgba(80,80,80,0.6)" stroke-width="1.0" />
<line x1="344.70" y1="252.25" x2="514.20" y2="252.25" stroke="rgba(80,80,80,0.6)" stroke-width="1.0" />
<line x1="344.70" y1="259.90" x2="514.20" y2="259.90" stroke="rgba(80,80,80,0.6)" stroke-width="1.0" />
<line x1="344.70" y1="267.55" x2="514.20" y2="267.55" stroke="rgba(80,80,80,0.6)" stroke-width="1.0" />
<line x1="344.70" y1="275.20" x2="514.20" y2="275.20" stroke="rgba(80,80,80,0.6)" stroke-width="1.0" />
<line x1="344.70" y1="282.85" x2="514.20" y2="282.85" stroke="rgba(80,80,80,0.6)" stroke-width="1.0" />
<line x1="344.70" y1="290.50" x2="514.20" y2="290.50" stroke="rgba(80,80,80,0.6)" stroke-width="1.0" />
<line x1="344.70" y1="298.15" x2="514.20" y2="298.15" stroke="rgba(80,80,80,0.6)" stroke-width="1.0" />
<line x1="344.70" y1="305.80" x2="514.20" y2="305.80" stroke="rgba(80,80,80,0.6)" stroke-width="1.0" />
<line x1="514.20" y1="244.60" x2="514.20" y2="305.80" stroke="rgba(80,80,80,0.6)" stroke-width="0.6" />
<line x1="459.20" y1="245.10" x2="459.20" y2="305.80" stroke="#d87850" stroke-width="0.9" stroke-dasharray="1.2,1.6"/>
<rect x="363.40" y="299.50" width="2.00" height="6.30" fill="#4a2aa0" stroke="#3a1a1a" stroke-width="0.3" stroke-opacity="0.7"/>
<rect x="363.40" y="299.50" width="2.00" height="1.60" fill="#2a1418" opacity="0.75"/>
<rect x="365.70" y="298.10" width="2.00" height="7.70" fill="#a8382c" stroke="#3a1a1a" stroke-width="0.3" stroke-opacity="0.7"/>
<rect x="365.70" y="298.10" width="2.00" height="1.60" fill="#2a1418" opacity="0.75"/>
<rect x="387.70" y="297.40" width="2.00" height="8.40" fill="#4a2aa0" stroke="#3a1a1a" stroke-width="0.3" stroke-opacity="0.7"/>
<rect x="387.70" y="297.40" width="2.00" height="1.60" fill="#2a1418" opacity="0.75"/>
<rect x="390.20" y="293.30" width="2.00" height="12.50" fill="#a8382c" stroke="#3a1a1a" stroke-width="0.3" stroke-opacity="0.7"/>
<rect x="403.00" y="291.40" width="2.00" height="14.40" fill="#4a2aa0" stroke="#3a1a1a" stroke-width="0.3" stroke-opacity="0.7"/>
<rect x="405.30" y="286.90" width="2.00" height="18.90" fill="#a8382c" stroke="#3a1a1a" stroke-width="0.3" stroke-opacity="0.7"/>
<line x1="406.30" y1="285.00" x2="406.30" y2="286.90" stroke="#333" stroke-width="0.5" />
<line x1="405.60" y1="285.00" x2="407.00" y2="285.00" stroke="#333" stroke-width="0.4" />
<rect x="409.10" y="284.70" width="2.00" height="21.10" fill="#4a2aa0" stroke="#3a1a1a" stroke-width="0.3" stroke-opacity="0.7"/>
<rect x="411.30" y="270.20" width="2.00" height="35.60" fill="#a8382c" stroke="#3a1a1a" stroke-width="0.3" stroke-opacity="0.7"/>
<line x1="412.30" y1="265.70" x2="412.30" y2="270.20" stroke="#333" stroke-width="0.5" />
<line x1="411.60" y1="265.70" x2="413.00" y2="265.70" stroke="#333" stroke-width="0.4" />
<rect x="415.10" y="284.70" width="2.00" height="21.10" fill="#4a2aa0" stroke="#3a1a1a" stroke-width="0.3" stroke-opacity="0.7"/>
<rect x="417.30" y="255.60" width="2.00" height="50.20" fill="#a8382c" stroke="#3a1a1a" stroke-width="0.3" stroke-opacity="0.7"/>
<line x1="418.30" y1="252.30" x2="418.30" y2="255.60" stroke="#333" stroke-width="0.5" />
<line x1="417.60" y1="252.30" x2="419.00" y2="252.30" stroke="#333" stroke-width="0.4" />
<rect x="419.60" y="294.70" width="2.00" height="11.10" fill="#4a2aa0" stroke="#3a1a1a" stroke-width="0.3" stroke-opacity="0.7"/>
<rect x="421.80" y="275.80" width="2.00" height="30.00" fill="#a8382c" stroke="#3a1a1a" stroke-width="0.3" stroke-opacity="0.7"/>
<line x1="422.80" y1="273.10" x2="422.80" y2="275.80" stroke="#333" stroke-width="0.5" />
<line x1="422.10" y1="273.10" x2="423.50" y2="273.10" stroke="#333" stroke-width="0.4" />
<rect x="423.60" y="286.90" width="2.00" height="18.90" fill="#4a2aa0" stroke="#3a1a1a" stroke-width="0.3" stroke-opacity="0.7"/>
<rect x="425.80" y="259.00" width="2.00" height="46.80" fill="#a8382c" stroke="#3a1a1a" stroke-width="0.3" stroke-opacity="0.7"/>
<line x1="426.80" y1="253.90" x2="426.80" y2="259.00" stroke="#333" stroke-width="0.5" />
<line x1="426.10" y1="253.90" x2="427.50" y2="253.90" stroke="#333" stroke-width="0.4" />
<rect x="442.90" y="297.90" width="2.00" height="7.90" fill="#4a2aa0" stroke="#3a1a1a" stroke-width="0.3" stroke-opacity="0.7"/>
<rect x="442.90" y="297.90" width="2.00" height="1.60" fill="#2a1418" opacity="0.75"/>
<rect x="445.30" y="292.20" width="2.00" height="13.60" fill="#a8382c" stroke="#3a1a1a" stroke-width="0.3" stroke-opacity="0.7"/>
<line x1="446.30" y1="290.50" x2="446.30" y2="292.20" stroke="#333" stroke-width="0.5" />
<line x1="445.60" y1="290.50" x2="447.00" y2="290.50" stroke="#333" stroke-width="0.4" />
<rect x="472.80" y="300.30" width="2.00" height="5.50" fill="#4a2aa0" stroke="#3a1a1a" stroke-width="0.3" stroke-opacity="0.7"/>
<rect x="472.80" y="300.30" width="2.00" height="1.60" fill="#2a1418" opacity="0.75"/>
<rect x="475.60" y="294.30" width="2.00" height="11.50" fill="#a8382c" stroke="#3a1a1a" stroke-width="0.3" stroke-opacity="0.7"/>
<rect x="489.60" y="302.00" width="4.10" height="3.80" fill="#3a1a2a" stroke="#3a1a1a" stroke-width="0.3" stroke-opacity="0.7"/>
<line x1="344.70" y1="244.60" x2="344.70" y2="306.60" stroke="#8a8a8a" stroke-width="0.8" />
<line x1="343.70" y1="305.80" x2="514.20" y2="305.80" stroke="#555" stroke-width="0.8" />
<text x="342.60" y="246.55" font-size="4.85" fill="#2a2a2a" text-anchor="end" font-weight="normal" >400</text>
<text x="342.60" y="254.20" font-size="4.85" fill="#2a2a2a" text-anchor="end" font-weight="normal" >350</text>
<text x="342.60" y="261.85" font-size="4.85" fill="#2a2a2a" text-anchor="end" font-weight="normal" >300</text>
<text x="342.60" y="269.50" font-size="4.85" fill="#2a2a2a" text-anchor="end" font-weight="normal" >250</text>
<text x="342.60" y="277.15" font-size="4.85" fill="#2a2a2a" text-anchor="end" font-weight="normal" >200</text>
<text x="342.60" y="284.80" font-size="4.85" fill="#2a2a2a" text-anchor="end" font-weight="normal" >150</text>
<text x="342.60" y="292.45" font-size="4.85" fill="#2a2a2a" text-anchor="end" font-weight="normal" >100</text>
<text x="342.60" y="300.10" font-size="4.85" fill="#2a2a2a" text-anchor="end" font-weight="normal" >50</text>
<text x="342.60" y="307.75" font-size="4.85" fill="#2a2a2a" text-anchor="end" font-weight="normal" >0</text>
<text x="362.97" y="311.85" font-size="4.35" fill="#2a2a2a" text-anchor="middle" font-weight="normal" >20</text>
<text x="379.73" y="311.85" font-size="4.35" fill="#2a2a2a" text-anchor="middle" font-weight="normal" >40</text>
<text x="396.50" y="311.85" font-size="4.35" fill="#2a2a2a" text-anchor="middle" font-weight="normal" >60</text>
<text x="413.26" y="311.85" font-size="4.35" fill="#2a2a2a" text-anchor="middle" font-weight="normal" >80</text>
<text x="430.03" y="311.85" font-size="4.35" fill="#2a2a2a" text-anchor="middle" font-weight="normal" >100</text>
<text x="446.80" y="311.85" font-size="4.35" fill="#2a2a2a" text-anchor="middle" font-weight="normal" >120</text>
<text x="463.56" y="311.85" font-size="4.35" fill="#2a2a2a" text-anchor="middle" font-weight="normal" >140</text>
<text x="480.33" y="311.85" font-size="4.35" fill="#2a2a2a" text-anchor="middle" font-weight="normal" >160</text>
<text x="497.09" y="311.85" font-size="4.35" fill="#2a2a2a" text-anchor="middle" font-weight="normal" >180</text>
<text x="513.86" y="311.85" font-size="4.35" fill="#2a2a2a" text-anchor="middle" font-weight="normal" >200</text>
<text x="456.00" y="240.90" font-size="6.3" fill="#b83a30" text-anchor="start" font-weight="bold" >&#945;2</text>
<text x="133.90" y="9.50" font-size="11.4" fill="#000" text-anchor="start" font-weight="bold" >A</text>
<text x="333.70" y="9.90" font-size="11.4" fill="#000" text-anchor="start" font-weight="bold" >B</text>
<text x="133.90" y="64.40" font-size="11.4" fill="#000" text-anchor="start" font-weight="bold" >C</text>
<text x="334.40" y="64.50" font-size="11.4" fill="#000" text-anchor="start" font-weight="bold" >D</text>
<text x="132.70" y="152.20" font-size="11.4" fill="#000" text-anchor="start" font-weight="bold" >E</text>
<text x="334.80" y="152.20" font-size="11.4" fill="#000" text-anchor="start" font-weight="bold" >F</text>
<text x="133.50" y="238.40" font-size="11.4" fill="#000" text-anchor="start" font-weight="bold" >G</text>
<text x="334.80" y="239.70" font-size="11.4" fill="#000" text-anchor="start" font-weight="bold" >H</text>
<rect x="209.20" y="15.30" width="52.50" height="32.00" fill="#fef8e6" />
<circle cx="217.50" cy="3.10" r="1.45" fill="#9a9a9a" stroke="#6a6a6a" stroke-width="0.6"/>
<circle cx="217.50" cy="6.70" r="1.0" fill="none" stroke="#6a6a6a" stroke-width="0.55"/>
<path d="M215.70,8.70 L217.50,12.50 L219.30,8.70" fill="none" stroke="#6a6a6a" stroke-width="0.7"/>
<line x1="217.50" y1="12.50" x2="217.50" y2="13.50" stroke="#6a6a6a" stroke-width="0.7" />
<circle cx="221.60" cy="3.10" r="1.45" fill="#9a9a9a" stroke="#6a6a6a" stroke-width="0.6"/>
<circle cx="221.60" cy="6.70" r="1.0" fill="none" stroke="#6a6a6a" stroke-width="0.55"/>
<path d="M219.80,8.70 L221.60,12.50 L223.40,8.70" fill="none" stroke="#6a6a6a" stroke-width="0.7"/>
<line x1="221.60" y1="12.50" x2="221.60" y2="13.50" stroke="#6a6a6a" stroke-width="0.7" />
<circle cx="225.70" cy="3.10" r="1.45" fill="#9a9a9a" stroke="#6a6a6a" stroke-width="0.6"/>
<circle cx="225.70" cy="6.70" r="1.0" fill="none" stroke="#6a6a6a" stroke-width="0.55"/>
<path d="M223.90,8.70 L225.70,12.50 L227.50,8.70" fill="none" stroke="#6a6a6a" stroke-width="0.7"/>
<line x1="225.70" y1="12.50" x2="225.70" y2="13.50" stroke="#6a6a6a" stroke-width="0.7" />
<circle cx="229.80" cy="3.10" r="1.45" fill="#9a9a9a" stroke="#6a6a6a" stroke-width="0.6"/>
<circle cx="229.80" cy="6.70" r="1.0" fill="none" stroke="#6a6a6a" stroke-width="0.55"/>
<path d="M228.00,8.70 L229.80,12.50 L231.60,8.70" fill="none" stroke="#6a6a6a" stroke-width="0.7"/>
<line x1="229.80" y1="12.50" x2="229.80" y2="13.50" stroke="#6a6a6a" stroke-width="0.7" />
<text x="239.20" y="4.80" font-size="4.2" fill="#555" text-anchor="middle" font-weight="bold" >?</text>
<circle cx="239.20" cy="6.70" r="1.0" fill="none" stroke="#6a6a6a" stroke-width="0.55"/>
<path d="M237.40,8.70 L239.20,12.50 L241.00,8.70" fill="none" stroke="#6a6a6a" stroke-width="0.7"/>
<line x1="239.20" y1="12.50" x2="239.20" y2="13.50" stroke="#6a6a6a" stroke-width="0.7" />
<line x1="215.60" y1="13.70" x2="231.60" y2="13.70" stroke="#555" stroke-width="0.9" />
<line x1="237.60" y1="13.70" x2="240.80" y2="13.70" stroke="#555" stroke-width="0.9" />
<path d="M220.80,16.30 L223.00,16.30 L221.90,19.00 Z" fill="#111"/>
<path d="M223.10,16.30 L225.30,16.30 L224.20,19.00 Z" fill="#111"/>
<path d="M226.40,16.30 L228.60,16.30 L227.50,19.00 Z" fill="#111"/>
<path d="M238.50,16.30 L240.70,16.30 L239.60,19.00 Z" fill="#111"/>
<text x="164.60" y="19.30" font-size="5.0" fill="#6f6fbf" text-anchor="start" font-weight="normal" >Mouse</text>
<text x="244.30" y="19.30" font-size="5.0" fill="#d47868" text-anchor="start" font-weight="normal" >Human</text>
<text x="286.70" y="19.20" font-size="5.0" fill="#6f6fbf" text-anchor="start" font-weight="normal" >Mouse</text>
<g transform="translate(0,0.35)">
<defs><linearGradient id="gm1" x1="0" x2="1"><stop offset="0" stop-color="#c4caca"/><stop offset="1" stop-color="#a8d2d0"/></linearGradient><linearGradient id="gm2" x1="0" x2="1"><stop offset="0" stop-color="#c8d4d4"/><stop offset="1" stop-color="#c0cccc"/></linearGradient></defs>
<line x1="146.00" y1="21.80" x2="152.00" y2="21.80" stroke="#9aa" stroke-width="0.7" />
<rect x="157.00" y="20.80" width="27.50" height="2.00" fill="url(#gm1)" />
<path d="M150.90,21.70 Q154.40,18.30 157.90,21.70 Q154.40,25.10 150.90,21.70 Z" fill="#f2f6f6" stroke="#94a4a4" stroke-width="0.4"/>
<path d="M184.10,21.50 Q188.00,18.10 191.90,21.50 Q188.00,24.90 184.10,21.50 Z" fill="#f2f6f6" stroke="#94a4a4" stroke-width="0.4"/>
<line x1="191.80" y1="21.50" x2="198.00" y2="21.50" stroke="#8a8a8a" stroke-width="0.7" />
<rect x="204.00" y="20.80" width="46.00" height="1.50" fill="#f0ccd2" />
<line x1="204.00" y1="20.70" x2="250.00" y2="20.70" stroke="#d89aa8" stroke-width="0.35" />
<line x1="204.00" y1="22.40" x2="250.00" y2="22.40" stroke="#d89aa8" stroke-width="0.35" />
<path d="M200.90,21.50 Q204.60,18.10 208.30,21.50 Q204.60,24.90 200.90,21.50 Z" fill="#f8e0e4" stroke="#d48a9c" stroke-width="0.4"/>
<path d="M249.10,21.50 Q253.40,18.10 257.70,21.50 Q253.40,24.90 249.10,21.50 Z" fill="#f8e0e4" stroke="#d48a9c" stroke-width="0.4"/>
<path d="M258,21.6 L264,21.1 L305,20.7 L305,22.7 L264,22.2 Z" fill="#c6d2d2"/>
<path d="M305.90,21.70 Q309.60,18.30 313.30,21.70 Q309.60,25.10 305.90,21.70 Z" fill="#f2f6f6" stroke="#94a4a4" stroke-width="0.4"/>
<line x1="313.00" y1="21.70" x2="317.50" y2="21.70" stroke="#9aa" stroke-width="0.7" />
</g>
<text x="170.00" y="27.20" font-size="4.2" fill="#777" text-anchor="middle" font-weight="normal" >34</text>
<text x="194.10" y="27.20" font-size="4.2" fill="#d08a96" text-anchor="middle" font-weight="normal" >10/53</text>
<text x="226.20" y="27.20" font-size="4.0" fill="#e08060" text-anchor="middle" font-weight="normal" textLength="21" lengthAdjust="spacingAndGlyphs">40/44/37/33</text>
<text x="259.40" y="27.20" font-size="4.2" fill="#e09080" text-anchor="middle" font-weight="normal" >?/?</text>
<text x="282.00" y="27.20" font-size="4.2" fill="#6f6fbf" text-anchor="middle" font-weight="normal" >160/162</text>
<text x="295.00" y="27.20" font-size="4.2" fill="#6f6fbf" text-anchor="middle" font-weight="normal" >176</text>
<line x1="146.90" y1="32.30" x2="317.00" y2="32.30" stroke="#999" stroke-width="0.6" />
<rect x="172.30" y="33.00" width="11.50" height="2.20" fill="#fff" stroke="#888" stroke-width="0.5"/>
<rect x="185.80" y="30.00" width="4.20" height="2.00" fill="#ccc" stroke="#777" stroke-width="0.5"/>
<rect x="190.80" y="33.00" width="5.40" height="2.00" fill="#555" stroke="#444" stroke-width="0.4"/>
<rect x="200.00" y="30.00" width="10.00" height="2.00" fill="#fff" stroke="#c08888" stroke-width="0.5"/>
<rect x="210.00" y="32.60" width="26.20" height="2.30" fill="#000" />
<rect x="245.10" y="30.20" width="2.00" height="2.00" fill="#8c2a1c" />
<rect x="256.90" y="30.20" width="2.00" height="2.00" fill="#8c2a1c" />
<rect x="260.40" y="30.20" width="2.00" height="2.00" fill="#8c2a1c" />
<text x="246.60" y="39.40" font-size="5.6" fill="#444" text-anchor="middle" font-weight="normal" >&#950;</text>
<text x="254.10" y="39.30" font-size="5.6" fill="#444" text-anchor="start" font-weight="normal" >&#945;2/1</text>
<line x1="147.00" y1="41.50" x2="318.00" y2="41.50" stroke="#9a9a9a" stroke-width="0.5" />
<line x1="147.00" y1="40.90" x2="147.00" y2="42.10" stroke="#aaa" stroke-width="0.35" />
<line x1="148.70" y1="40.90" x2="148.70" y2="42.10" stroke="#aaa" stroke-width="0.35" />
<line x1="150.40" y1="40.90" x2="150.40" y2="42.10" stroke="#aaa" stroke-width="0.35" />
<line x1="152.10" y1="40.90" x2="152.10" y2="42.10" stroke="#aaa" stroke-width="0.35" />
<line x1="153.80" y1="40.90" x2="153.80" y2="42.10" stroke="#aaa" stroke-width="0.35" />
<line x1="155.50" y1="40.90" x2="155.50" y2="42.10" stroke="#aaa" stroke-width="0.35" />
<line x1="157.20" y1="40.90" x2="157.20" y2="42.10" stroke="#aaa" stroke-width="0.35" />
<line x1="158.90" y1="40.90" x2="158.90" y2="42.10" stroke="#aaa" stroke-width="0.35" />
<line x1="160.60" y1="40.90" x2="160.60" y2="42.10" stroke="#aaa" stroke-width="0.35" />
<line x1="162.30" y1="40.90" x2="162.30" y2="42.10" stroke="#aaa" stroke-width="0.35" />
<line x1="164.00" y1="40.90" x2="164.00" y2="42.10" stroke="#aaa" stroke-width="0.35" />
<line x1="165.70" y1="40.90" x2="165.70" y2="42.10" stroke="#aaa" stroke-width="0.35" />
<line x1="167.40" y1="40.90" x2="167.40" y2="42.10" stroke="#aaa" stroke-width="0.35" />
<line x1="169.10" y1="40.90" x2="169.10" y2="42.10" stroke="#aaa" stroke-width="0.35" />
<line x1="170.80" y1="40.90" x2="170.80" y2="42.10" stroke="#aaa" stroke-width="0.35" />
<line x1="172.50" y1="40.90" x2="172.50" y2="42.10" stroke="#aaa" stroke-width="0.35" />
<line x1="174.20" y1="40.90" x2="174.20" y2="42.10" stroke="#aaa" stroke-width="0.35" />
<line x1="175.90" y1="40.90" x2="175.90" y2="42.10" stroke="#aaa" stroke-width="0.35" />
<line x1="177.60" y1="40.90" x2="177.60" y2="42.10" stroke="#aaa" stroke-width="0.35" />
<line x1="179.30" y1="40.90" x2="179.30" y2="42.10" stroke="#aaa" stroke-width="0.35" />
<line x1="181.00" y1="40.90" x2="181.00" y2="42.10" stroke="#aaa" stroke-width="0.35" />
<line x1="182.70" y1="40.90" x2="182.70" y2="42.10" stroke="#aaa" stroke-width="0.35" />
<line x1="184.40" y1="40.90" x2="184.40" y2="42.10" stroke="#aaa" stroke-width="0.35" />
<line x1="186.10" y1="40.90" x2="186.10" y2="42.10" stroke="#aaa" stroke-width="0.35" />
<line x1="187.80" y1="40.90" x2="187.80" y2="42.10" stroke="#aaa" stroke-width="0.35" />
<line x1="189.50" y1="40.90" x2="189.50" y2="42.10" stroke="#aaa" stroke-width="0.35" />
<line x1="191.20" y1="40.90" x2="191.20" y2="42.10" stroke="#aaa" stroke-width="0.35" />
<line x1="192.90" y1="40.90" x2="192.90" y2="42.10" stroke="#aaa" stroke-width="0.35" />
<line x1="194.60" y1="40.90" x2="194.60" y2="42.10" stroke="#aaa" stroke-width="0.35" />
<line x1="196.30" y1="40.90" x2="196.30" y2="42.10" stroke="#aaa" stroke-width="0.35" />
<line x1="198.00" y1="40.90" x2="198.00" y2="42.10" stroke="#aaa" stroke-width="0.35" />
<line x1="199.70" y1="40.90" x2="199.70" y2="42.10" stroke="#aaa" stroke-width="0.35" />
<line x1="201.40" y1="40.90" x2="201.40" y2="42.10" stroke="#aaa" stroke-width="0.35" />
<line x1="203.10" y1="40.90" x2="203.10" y2="42.10" stroke="#aaa" stroke-width="0.35" />
<line x1="204.80" y1="40.90" x2="204.80" y2="42.10" stroke="#aaa" stroke-width="0.35" />
<line x1="206.50" y1="40.90" x2="206.50" y2="42.10" stroke="#aaa" stroke-width="0.35" />
<line x1="208.20" y1="40.90" x2="208.20" y2="42.10" stroke="#aaa" stroke-width="0.35" />
<line x1="209.90" y1="40.90" x2="209.90" y2="42.10" stroke="#aaa" stroke-width="0.35" />
<line x1="211.60" y1="40.90" x2="211.60" y2="42.10" stroke="#aaa" stroke-width="0.35" />
<line x1="213.30" y1="40.90" x2="213.30" y2="42.10" stroke="#aaa" stroke-width="0.35" />
<line x1="215.00" y1="40.90" x2="215.00" y2="42.10" stroke="#aaa" stroke-width="0.35" />
<line x1="216.70" y1="40.90" x2="216.70" y2="42.10" stroke="#aaa" stroke-width="0.35" />
<line x1="218.40" y1="40.90" x2="218.40" y2="42.10" stroke="#aaa" stroke-width="0.35" />
<line x1="220.10" y1="40.90" x2="220.10" y2="42.10" stroke="#aaa" stroke-width="0.35" />
<line x1="221.80" y1="40.90" x2="221.80" y2="42.10" stroke="#aaa" stroke-width="0.35" />
<line x1="223.50" y1="40.90" x2="223.50" y2="42.10" stroke="#aaa" stroke-width="0.35" />
<line x1="225.20" y1="40.90" x2="225.20" y2="42.10" stroke="#aaa" stroke-width="0.35" />
<line x1="226.90" y1="40.90" x2="226.90" y2="42.10" stroke="#aaa" stroke-width="0.35" />
<line x1="228.60" y1="40.90" x2="228.60" y2="42.10" stroke="#aaa" stroke-width="0.35" />
<line x1="230.30" y1="40.90" x2="230.30" y2="42.10" stroke="#aaa" stroke-width="0.35" />
<line x1="232.00" y1="40.90" x2="232.00" y2="42.10" stroke="#aaa" stroke-width="0.35" />
<line x1="233.70" y1="40.90" x2="233.70" y2="42.10" stroke="#aaa" stroke-width="0.35" />
<line x1="235.40" y1="40.90" x2="235.40" y2="42.10" stroke="#aaa" stroke-width="0.35" />
<line x1="237.10" y1="40.90" x2="237.10" y2="42.10" stroke="#aaa" stroke-width="0.35" />
<line x1="238.80" y1="40.90" x2="238.80" y2="42.10" stroke="#aaa" stroke-width="0.35" />
<line x1="240.50" y1="40.90" x2="240.50" y2="42.10" stroke="#aaa" stroke-width="0.35" />
<line x1="242.20" y1="40.90" x2="242.20" y2="42.10" stroke="#aaa" stroke-width="0.35" />
<line x1="243.90" y1="40.90" x2="243.90" y2="42.10" stroke="#aaa" stroke-width="0.35" />
<line x1="245.60" y1="40.90" x2="245.60" y2="42.10" stroke="#aaa" stroke-width="0.35" />
<line x1="247.30" y1="40.90" x2="247.30" y2="42.10" stroke="#aaa" stroke-width="0.35" />
<line x1="249.00" y1="40.90" x2="249.00" y2="42.10" stroke="#aaa" stroke-width="0.35" />
<line x1="250.70" y1="40.90" x2="250.70" y2="42.10" stroke="#aaa" stroke-width="0.35" />
<line x1="252.40" y1="40.90" x2="252.40" y2="42.10" stroke="#aaa" stroke-width="0.35" />
<line x1="254.10" y1="40.90" x2="254.10" y2="42.10" stroke="#aaa" stroke-width="0.35" />
<line x1="255.80" y1="40.90" x2="255.80" y2="42.10" stroke="#aaa" stroke-width="0.35" />
<line x1="257.50" y1="40.90" x2="257.50" y2="42.10" stroke="#aaa" stroke-width="0.35" />
<line x1="259.20" y1="40.90" x2="259.20" y2="42.10" stroke="#aaa" stroke-width="0.35" />
<line x1="260.90" y1="40.90" x2="260.90" y2="42.10" stroke="#aaa" stroke-width="0.35" />
<line x1="262.60" y1="40.90" x2="262.60" y2="42.10" stroke="#aaa" stroke-width="0.35" />
<line x1="264.30" y1="40.90" x2="264.30" y2="42.10" stroke="#aaa" stroke-width="0.35" />
<line x1="266.00" y1="40.90" x2="266.00" y2="42.10" stroke="#aaa" stroke-width="0.35" />
<line x1="267.70" y1="40.90" x2="267.70" y2="42.10" stroke="#aaa" stroke-width="0.35" />
<line x1="269.40" y1="40.90" x2="269.40" y2="42.10" stroke="#aaa" stroke-width="0.35" />
<line x1="271.10" y1="40.90" x2="271.10" y2="42.10" stroke="#aaa" stroke-width="0.35" />
<line x1="272.80" y1="40.90" x2="272.80" y2="42.10" stroke="#aaa" stroke-width="0.35" />
<line x1="274.50" y1="40.90" x2="274.50" y2="42.10" stroke="#aaa" stroke-width="0.35" />
<line x1="276.20" y1="40.90" x2="276.20" y2="42.10" stroke="#aaa" stroke-width="0.35" />
<line x1="277.90" y1="40.90" x2="277.90" y2="42.10" stroke="#aaa" stroke-width="0.35" />
<line x1="279.60" y1="40.90" x2="279.60" y2="42.10" stroke="#aaa" stroke-width="0.35" />
<line x1="281.30" y1="40.90" x2="281.30" y2="42.10" stroke="#aaa" stroke-width="0.35" />
<line x1="283.00" y1="40.90" x2="283.00" y2="42.10" stroke="#aaa" stroke-width="0.35" />
<line x1="284.70" y1="40.90" x2="284.70" y2="42.10" stroke="#aaa" stroke-width="0.35" />
<line x1="286.40" y1="40.90" x2="286.40" y2="42.10" stroke="#aaa" stroke-width="0.35" />
<line x1="288.10" y1="40.90" x2="288.10" y2="42.10" stroke="#aaa" stroke-width="0.35" />
<line x1="289.80" y1="40.90" x2="289.80" y2="42.10" stroke="#aaa" stroke-width="0.35" />
<line x1="291.50" y1="40.90" x2="291.50" y2="42.10" stroke="#aaa" stroke-width="0.35" />
<line x1="293.20" y1="40.90" x2="293.20" y2="42.10" stroke="#aaa" stroke-width="0.35" />
<line x1="294.90" y1="40.90" x2="294.90" y2="42.10" stroke="#aaa" stroke-width="0.35" />
<line x1="296.60" y1="40.90" x2="296.60" y2="42.10" stroke="#aaa" stroke-width="0.35" />
<line x1="298.30" y1="40.90" x2="298.30" y2="42.10" stroke="#aaa" stroke-width="0.35" />
<line x1="300.00" y1="40.90" x2="300.00" y2="42.10" stroke="#aaa" stroke-width="0.35" />
<line x1="301.70" y1="40.90" x2="301.70" y2="42.10" stroke="#aaa" stroke-width="0.35" />
<line x1="303.40" y1="40.90" x2="303.40" y2="42.10" stroke="#aaa" stroke-width="0.35" />
<line x1="305.10" y1="40.90" x2="305.10" y2="42.10" stroke="#aaa" stroke-width="0.35" />
<line x1="306.80" y1="40.90" x2="306.80" y2="42.10" stroke="#aaa" stroke-width="0.35" />
<line x1="308.50" y1="40.90" x2="308.50" y2="42.10" stroke="#aaa" stroke-width="0.35" />
<line x1="310.20" y1="40.90" x2="310.20" y2="42.10" stroke="#aaa" stroke-width="0.35" />
<line x1="311.90" y1="40.90" x2="311.90" y2="42.10" stroke="#aaa" stroke-width="0.35" />
<line x1="313.60" y1="40.90" x2="313.60" y2="42.10" stroke="#aaa" stroke-width="0.35" />
<line x1="315.30" y1="40.90" x2="315.30" y2="42.10" stroke="#aaa" stroke-width="0.35" />
<line x1="317.00" y1="40.90" x2="317.00" y2="42.10" stroke="#aaa" stroke-width="0.35" />
<path d="M238.30,43.80 L240.70,39.20 L241.90,39.20 L239.50,43.80 Z" fill="#fff" stroke="#555" stroke-width="0.45"/>
<path d="M271.80,43.80 L274.20,39.20 L275.40,39.20 L273.00,43.80 Z" fill="#fff" stroke="#555" stroke-width="0.45"/>
<text x="165.40" y="47.80" font-size="4.35" fill="#2a2a2a" text-anchor="middle" font-weight="normal" >20</text>
<text x="181.50" y="47.80" font-size="4.35" fill="#2a2a2a" text-anchor="middle" font-weight="normal" >40</text>
<text x="199.20" y="47.80" font-size="4.35" fill="#2a2a2a" text-anchor="middle" font-weight="normal" >60</text>
<text x="216.90" y="47.80" font-size="4.35" fill="#2a2a2a" text-anchor="middle" font-weight="normal" >80</text>
<text x="233.00" y="47.80" font-size="4.35" fill="#2a2a2a" text-anchor="middle" font-weight="normal" >100</text>
<text x="249.90" y="47.80" font-size="4.35" fill="#2a2a2a" text-anchor="middle" font-weight="normal" >150</text>
<text x="266.50" y="47.80" font-size="4.35" fill="#2a2a2a" text-anchor="middle" font-weight="normal" >170</text>
<text x="283.90" y="47.80" font-size="4.35" fill="#2a2a2a" text-anchor="middle" font-weight="normal" >180</text>
<text x="298.30" y="47.80" font-size="4.35" fill="#2a2a2a" text-anchor="middle" font-weight="normal" >190</text>
<text x="317.80" y="47.80" font-size="4.35" fill="#2a2a2a" text-anchor="middle" font-weight="normal" >200</text>
<rect x="408.30" y="15.30" width="52.50" height="32.00" fill="#fef8e6" />
<text x="417.60" y="4.80" font-size="4.2" fill="#555" text-anchor="middle" font-weight="bold" >2</text>
<circle cx="417.60" cy="6.70" r="1.0" fill="none" stroke="#6a6a6a" stroke-width="0.55"/>
<path d="M415.80,8.70 L417.60,12.50 L419.40,8.70" fill="none" stroke="#6a6a6a" stroke-width="0.7"/>
<line x1="417.60" y1="12.50" x2="417.60" y2="13.50" stroke="#6a6a6a" stroke-width="0.7" />
<text x="421.20" y="4.80" font-size="4.2" fill="#555" text-anchor="middle" font-weight="bold" >3</text>
<circle cx="421.20" cy="6.70" r="1.0" fill="none" stroke="#6a6a6a" stroke-width="0.55"/>
<path d="M419.40,8.70 L421.20,12.50 L423.00,8.70" fill="none" stroke="#6a6a6a" stroke-width="0.7"/>
<line x1="421.20" y1="12.50" x2="421.20" y2="13.50" stroke="#6a6a6a" stroke-width="0.7" />
<text x="424.80" y="4.80" font-size="4.2" fill="#555" text-anchor="middle" font-weight="bold" >5</text>
<circle cx="424.80" cy="6.70" r="1.0" fill="none" stroke="#6a6a6a" stroke-width="0.55"/>
<path d="M423.00,8.70 L424.80,12.50 L426.60,8.70" fill="none" stroke="#6a6a6a" stroke-width="0.7"/>
<line x1="424.80" y1="12.50" x2="424.80" y2="13.50" stroke="#6a6a6a" stroke-width="0.7" />
<line x1="415.60" y1="13.90" x2="426.80" y2="13.90" stroke="#555" stroke-width="0.9" />
<path d="M417.20,16.40 L419.40,16.40 L418.30,19.10 Z" fill="#111"/>
<path d="M420.10,16.40 L422.30,16.40 L421.20,19.10 Z" fill="#111"/>
<path d="M423.60,16.40 L425.80,16.40 L424.70,19.10 Z" fill="#111"/>
<text x="389.20" y="19.00" font-size="5.0" fill="#6f6fbf" text-anchor="start" font-weight="normal" >Mouse</text>
<path d="M343.8,21.1 L379.5,19.0 L379.5,19.7 L484,19.7 L484,19.0 L517.7,21.1 L484,23.2 L484,22.5 L379.5,22.5 L379.5,23.2 Z" fill="#cadcdc" stroke="#8ea4a4" stroke-width="0.4"/>
<path d="M362,21.1 L379.5,20.4 L484,20.5 L500,21.1 L484,21.6 L379.5,21.7 Z" fill="#e8f1f1"/>
<text x="367.70" y="26.70" font-size="4.0" fill="#888" text-anchor="middle" font-weight="normal" >34</text>
<text x="394.60" y="26.70" font-size="4.0" fill="#888" text-anchor="middle" font-weight="normal" >36</text>
<text x="408.30" y="26.70" font-size="4.0" fill="#c08080" text-anchor="middle" font-weight="normal" >70</text>
<text x="414.10" y="26.70" font-size="4.0" fill="#c08080" text-anchor="middle" font-weight="normal" >76</text>
<text x="425.20" y="26.70" font-size="4.0" fill="#c08080" text-anchor="middle" font-weight="normal" >87/93/95</text>
<text x="444.40" y="26.70" font-size="4.0" fill="#c08080" text-anchor="middle" font-weight="normal" >114</text>
<text x="461.90" y="26.70" font-size="4.0" fill="#c08080" text-anchor="middle" font-weight="normal" >126</text>
<text x="477.70" y="26.70" font-size="4.0" fill="#6f6fbf" text-anchor="middle" font-weight="normal" >160</text>
<text x="494.60" y="26.70" font-size="4.0" fill="#888" text-anchor="middle" font-weight="normal" >176</text>
<line x1="345.20" y1="32.60" x2="514.00" y2="32.60" stroke="#999" stroke-width="0.6" />
<rect x="372.00" y="33.00" width="7.80" height="1.90" fill="#fff" stroke="#888" stroke-width="0.5"/>
<rect x="384.60" y="30.50" width="4.70" height="1.70" fill="#ccc" stroke="#777" stroke-width="0.5"/>
<rect x="390.20" y="33.00" width="6.00" height="1.80" fill="#555" stroke="#444" stroke-width="0.4"/>
<rect x="400.60" y="30.50" width="6.00" height="1.70" fill="#ddd" stroke="#888" stroke-width="0.5"/>
<rect x="408.10" y="32.80" width="25.50" height="2.10" fill="#000" />
<rect x="441.50" y="30.40" width="2.00" height="2.00" fill="#8c2a1c" />
<rect x="448.10" y="30.40" width="2.00" height="2.00" fill="#8c2a1c" />
<rect x="458.20" y="30.40" width="2.00" height="2.00" fill="#8c2a1c" />
<text x="443.10" y="40.00" font-size="5.4" fill="#222" text-anchor="middle" font-weight="normal" >&#950;</text>
<text x="450.80" y="40.00" font-size="5.6" fill="#222" text-anchor="middle" font-weight="normal" >&#945;1</text>
<text x="461.30" y="40.00" font-size="5.6" fill="#222" text-anchor="middle" font-weight="normal" >&#945;2</text>
<line x1="345.50" y1="42.10" x2="514.50" y2="42.10" stroke="#9a9a9a" stroke-width="0.5" />
<line x1="345.50" y1="41.50" x2="345.50" y2="42.70" stroke="#aaa" stroke-width="0.35" />
<line x1="347.20" y1="41.50" x2="347.20" y2="42.70" stroke="#aaa" stroke-width="0.35" />
<line x1="348.90" y1="41.50" x2="348.90" y2="42.70" stroke="#aaa" stroke-width="0.35" />
<line x1="350.60" y1="41.50" x2="350.60" y2="42.70" stroke="#aaa" stroke-width="0.35" />
<line x1="352.30" y1="41.50" x2="352.30" y2="42.70" stroke="#aaa" stroke-width="0.35" />
<line x1="354.00" y1="41.50" x2="354.00" y2="42.70" stroke="#aaa" stroke-width="0.35" />
<line x1="355.70" y1="41.50" x2="355.70" y2="42.70" stroke="#aaa" stroke-width="0.35" />
<line x1="357.40" y1="41.50" x2="357.40" y2="42.70" stroke="#aaa" stroke-width="0.35" />
<line x1="359.10" y1="41.50" x2="359.10" y2="42.70" stroke="#aaa" stroke-width="0.35" />
<line x1="360.80" y1="41.50" x2="360.80" y2="42.70" stroke="#aaa" stroke-width="0.35" />
<line x1="362.50" y1="41.50" x2="362.50" y2="42.70" stroke="#aaa" stroke-width="0.35" />
<line x1="364.20" y1="41.50" x2="364.20" y2="42.70" stroke="#aaa" stroke-width="0.35" />
<line x1="365.90" y1="41.50" x2="365.90" y2="42.70" stroke="#aaa" stroke-width="0.35" />
<line x1="367.60" y1="41.50" x2="367.60" y2="42.70" stroke="#aaa" stroke-width="0.35" />
<line x1="369.30" y1="41.50" x2="369.30" y2="42.70" stroke="#aaa" stroke-width="0.35" />
<line x1="371.00" y1="41.50" x2="371.00" y2="42.70" stroke="#aaa" stroke-width="0.35" />
<line x1="372.70" y1="41.50" x2="372.70" y2="42.70" stroke="#aaa" stroke-width="0.35" />
<line x1="374.40" y1="41.50" x2="374.40" y2="42.70" stroke="#aaa" stroke-width="0.35" />
<line x1="376.10" y1="41.50" x2="376.10" y2="42.70" stroke="#aaa" stroke-width="0.35" />
<line x1="377.80" y1="41.50" x2="377.80" y2="42.70" stroke="#aaa" stroke-width="0.35" />
<line x1="379.50" y1="41.50" x2="379.50" y2="42.70" stroke="#aaa" stroke-width="0.35" />
<line x1="381.20" y1="41.50" x2="381.20" y2="42.70" stroke="#aaa" stroke-width="0.35" />
<line x1="382.90" y1="41.50" x2="382.90" y2="42.70" stroke="#aaa" stroke-width="0.35" />
<line x1="384.60" y1="41.50" x2="384.60" y2="42.70" stroke="#aaa" stroke-width="0.35" />
<line x1="386.30" y1="41.50" x2="386.30" y2="42.70" stroke="#aaa" stroke-width="0.35" />
<line x1="388.00" y1="41.50" x2="388.00" y2="42.70" stroke="#aaa" stroke-width="0.35" />
<line x1="389.70" y1="41.50" x2="389.70" y2="42.70" stroke="#aaa" stroke-width="0.35" />
<line x1="391.40" y1="41.50" x2="391.40" y2="42.70" stroke="#aaa" stroke-width="0.35" />
<line x1="393.10" y1="41.50" x2="393.10" y2="42.70" stroke="#aaa" stroke-width="0.35" />
<line x1="394.80" y1="41.50" x2="394.80" y2="42.70" stroke="#aaa" stroke-width="0.35" />
<line x1="396.50" y1="41.50" x2="396.50" y2="42.70" stroke="#aaa" stroke-width="0.35" />
<line x1="398.20" y1="41.50" x2="398.20" y2="42.70" stroke="#aaa" stroke-width="0.35" />
<line x1="399.90" y1="41.50" x2="399.90" y2="42.70" stroke="#aaa" stroke-width="0.35" />
<line x1="401.60" y1="41.50" x2="401.60" y2="42.70" stroke="#aaa" stroke-width="0.35" />
<line x1="403.30" y1="41.50" x2="403.30" y2="42.70" stroke="#aaa" stroke-width="0.35" />
<line x1="405.00" y1="41.50" x2="405.00" y2="42.70" stroke="#aaa" stroke-width="0.35" />
<line x1="406.70" y1="41.50" x2="406.70" y2="42.70" stroke="#aaa" stroke-width="0.35" />
<line x1="408.40" y1="41.50" x2="408.40" y2="42.70" stroke="#aaa" stroke-width="0.35" />
<line x1="410.10" y1="41.50" x2="410.10" y2="42.70" stroke="#aaa" stroke-width="0.35" />
<line x1="411.80" y1="41.50" x2="411.80" y2="42.70" stroke="#aaa" stroke-width="0.35" />
<line x1="413.50" y1="41.50" x2="413.50" y2="42.70" stroke="#aaa" stroke-width="0.35" />
<line x1="415.20" y1="41.50" x2="415.20" y2="42.70" stroke="#aaa" stroke-width="0.35" />
<line x1="416.90" y1="41.50" x2="416.90" y2="42.70" stroke="#aaa" stroke-width="0.35" />
<line x1="418.60" y1="41.50" x2="418.60" y2="42.70" stroke="#aaa" stroke-width="0.35" />
<line x1="420.30" y1="41.50" x2="420.30" y2="42.70" stroke="#aaa" stroke-width="0.35" />
<line x1="422.00" y1="41.50" x2="422.00" y2="42.70" stroke="#aaa" stroke-width="0.35" />
<line x1="423.70" y1="41.50" x2="423.70" y2="42.70" stroke="#aaa" stroke-width="0.35" />
<line x1="425.40" y1="41.50" x2="425.40" y2="42.70" stroke="#aaa" stroke-width="0.35" />
<line x1="427.10" y1="41.50" x2="427.10" y2="42.70" stroke="#aaa" stroke-width="0.35" />
<line x1="428.80" y1="41.50" x2="428.80" y2="42.70" stroke="#aaa" stroke-width="0.35" />
<line x1="430.50" y1="41.50" x2="430.50" y2="42.70" stroke="#aaa" stroke-width="0.35" />
<line x1="432.20" y1="41.50" x2="432.20" y2="42.70" stroke="#aaa" stroke-width="0.35" />
<line x1="433.90" y1="41.50" x2="433.90" y2="42.70" stroke="#aaa" stroke-width="0.35" />
<line x1="435.60" y1="41.50" x2="435.60" y2="42.70" stroke="#aaa" stroke-width="0.35" />
<line x1="437.30" y1="41.50" x2="437.30" y2="42.70" stroke="#aaa" stroke-width="0.35" />
<line x1="439.00" y1="41.50" x2="439.00" y2="42.70" stroke="#aaa" stroke-width="0.35" />
<line x1="440.70" y1="41.50" x2="440.70" y2="42.70" stroke="#aaa" stroke-width="0.35" />
<line x1="442.40" y1="41.50" x2="442.40" y2="42.70" stroke="#aaa" stroke-width="0.35" />
<line x1="444.10" y1="41.50" x2="444.10" y2="42.70" stroke="#aaa" stroke-width="0.35" />
<line x1="445.80" y1="41.50" x2="445.80" y2="42.70" stroke="#aaa" stroke-width="0.35" />
<line x1="447.50" y1="41.50" x2="447.50" y2="42.70" stroke="#aaa" stroke-width="0.35" />
<line x1="449.20" y1="41.50" x2="449.20" y2="42.70" stroke="#aaa" stroke-width="0.35" />
<line x1="450.90" y1="41.50" x2="450.90" y2="42.70" stroke="#aaa" stroke-width="0.35" />
<line x1="452.60" y1="41.50" x2="452.60" y2="42.70" stroke="#aaa" stroke-width="0.35" />
<line x1="454.30" y1="41.50" x2="454.30" y2="42.70" stroke="#aaa" stroke-width="0.35" />
<line x1="456.00" y1="41.50" x2="456.00" y2="42.70" stroke="#aaa" stroke-width="0.35" />
<line x1="457.70" y1="41.50" x2="457.70" y2="42.70" stroke="#aaa" stroke-width="0.35" />
<line x1="459.40" y1="41.50" x2="459.40" y2="42.70" stroke="#aaa" stroke-width="0.35" />
<line x1="461.10" y1="41.50" x2="461.10" y2="42.70" stroke="#aaa" stroke-width="0.35" />
<line x1="462.80" y1="41.50" x2="462.80" y2="42.70" stroke="#aaa" stroke-width="0.35" />
<line x1="464.50" y1="41.50" x2="464.50" y2="42.70" stroke="#aaa" stroke-width="0.35" />
<line x1="466.20" y1="41.50" x2="466.20" y2="42.70" stroke="#aaa" stroke-width="0.35" />
<line x1="467.90" y1="41.50" x2="467.90" y2="42.70" stroke="#aaa" stroke-width="0.35" />
<line x1="469.60" y1="41.50" x2="469.60" y2="42.70" stroke="#aaa" stroke-width="0.35" />
<line x1="471.30" y1="41.50" x2="471.30" y2="42.70" stroke="#aaa" stroke-width="0.35" />
<line x1="473.00" y1="41.50" x2="473.00" y2="42.70" stroke="#aaa" stroke-width="0.35" />
<line x1="474.70" y1="41.50" x2="474.70" y2="42.70" stroke="#aaa" stroke-width="0.35" />
<line x1="476.40" y1="41.50" x2="476.40" y2="42.70" stroke="#aaa" stroke-width="0.35" />
<line x1="478.10" y1="41.50" x2="478.10" y2="42.70" stroke="#aaa" stroke-width="0.35" />
<line x1="479.80" y1="41.50" x2="479.80" y2="42.70" stroke="#aaa" stroke-width="0.35" />
<line x1="481.50" y1="41.50" x2="481.50" y2="42.70" stroke="#aaa" stroke-width="0.35" />
<line x1="483.20" y1="41.50" x2="483.20" y2="42.70" stroke="#aaa" stroke-width="0.35" />
<line x1="484.90" y1="41.50" x2="484.90" y2="42.70" stroke="#aaa" stroke-width="0.35" />
<line x1="486.60" y1="41.50" x2="486.60" y2="42.70" stroke="#aaa" stroke-width="0.35" />
<line x1="488.30" y1="41.50" x2="488.30" y2="42.70" stroke="#aaa" stroke-width="0.35" />
<line x1="490.00" y1="41.50" x2="490.00" y2="42.70" stroke="#aaa" stroke-width="0.35" />
<line x1="491.70" y1="41.50" x2="491.70" y2="42.70" stroke="#aaa" stroke-width="0.35" />
<line x1="493.40" y1="41.50" x2="493.40" y2="42.70" stroke="#aaa" stroke-width="0.35" />
<line x1="495.10" y1="41.50" x2="495.10" y2="42.70" stroke="#aaa" stroke-width="0.35" />
<line x1="496.80" y1="41.50" x2="496.80" y2="42.70" stroke="#aaa" stroke-width="0.35" />
<line x1="498.50" y1="41.50" x2="498.50" y2="42.70" stroke="#aaa" stroke-width="0.35" />
<line x1="500.20" y1="41.50" x2="500.20" y2="42.70" stroke="#aaa" stroke-width="0.35" />
<line x1="501.90" y1="41.50" x2="501.90" y2="42.70" stroke="#aaa" stroke-width="0.35" />
<line x1="503.60" y1="41.50" x2="503.60" y2="42.70" stroke="#aaa" stroke-width="0.35" />
<line x1="505.30" y1="41.50" x2="505.30" y2="42.70" stroke="#aaa" stroke-width="0.35" />
<line x1="507.00" y1="41.50" x2="507.00" y2="42.70" stroke="#aaa" stroke-width="0.35" />
<line x1="508.70" y1="41.50" x2="508.70" y2="42.70" stroke="#aaa" stroke-width="0.35" />
<line x1="510.40" y1="41.50" x2="510.40" y2="42.70" stroke="#aaa" stroke-width="0.35" />
<line x1="512.10" y1="41.50" x2="512.10" y2="42.70" stroke="#aaa" stroke-width="0.35" />
<line x1="513.80" y1="41.50" x2="513.80" y2="42.70" stroke="#aaa" stroke-width="0.35" />
<text x="363.47" y="47.90" font-size="4.35" fill="#2a2a2a" text-anchor="middle" font-weight="normal" >20</text>
<text x="380.23" y="47.90" font-size="4.35" fill="#2a2a2a" text-anchor="middle" font-weight="normal" >40</text>
<text x="397.00" y="47.90" font-size="4.35" fill="#2a2a2a" text-anchor="middle" font-weight="normal" >60</text>
<text x="413.76" y="47.90" font-size="4.35" fill="#2a2a2a" text-anchor="middle" font-weight="normal" >80</text>
<text x="430.53" y="47.90" font-size="4.35" fill="#2a2a2a" text-anchor="middle" font-weight="normal" >100</text>
<text x="447.30" y="47.90" font-size="4.35" fill="#2a2a2a" text-anchor="middle" font-weight="normal" >120</text>
<text x="464.06" y="47.90" font-size="4.35" fill="#2a2a2a" text-anchor="middle" font-weight="normal" >140</text>
<text x="480.83" y="47.90" font-size="4.35" fill="#2a2a2a" text-anchor="middle" font-weight="normal" >160</text>
<text x="497.59" y="47.90" font-size="4.35" fill="#2a2a2a" text-anchor="middle" font-weight="normal" >180</text>
<text x="514.36" y="47.90" font-size="4.35" fill="#2a2a2a" text-anchor="middle" font-weight="normal" >200</text>
<circle cx="31.2" cy="19.6" r="1.6" fill="#fff" stroke="#6f9a9a" stroke-width="0.8"/>
<circle cx="31.2" cy="26.0" r="1.6" fill="#fff" stroke="#8a8a8a" stroke-width="0.8"/>
<circle cx="31.2" cy="31.7" r="1.9" fill="#8a5a50"/>
<circle cx="31.2" cy="37.2" r="1.6" fill="#fff" stroke="#85856a" stroke-width="0.8"/>
<text x="36.40" y="21.70" font-size="5.1" fill="#2a2a2a" text-anchor="start" font-weight="normal" >HS-48</text>
<text x="36.40" y="28.10" font-size="5.1" fill="#2a2a2a" text-anchor="start" font-weight="normal" >HS-46</text>
<text x="36.40" y="33.80" font-size="5.1" fill="#2a2a2a" text-anchor="start" font-weight="normal" >HS-40</text>
<text x="36.40" y="39.30" font-size="5.1" fill="#2a2a2a" text-anchor="start" font-weight="normal" >HS-33</text>
<rect x="29.20" y="41.9" width="1.6" height="7.1" fill="#4a8a92"/>
<line x1="29.20" y1="45.4" x2="30.80" y2="45.4" stroke="#fff" stroke-width="0.5"/>
<rect x="31.80" y="41.9" width="1.6" height="7.1" fill="#4a8a92"/>
<line x1="31.80" y1="45.4" x2="33.40" y2="45.4" stroke="#fff" stroke-width="0.5"/>
<text x="37.20" y="47.60" font-size="5.1" fill="#2a2a2a" text-anchor="start" font-weight="normal" >&#945;-globin genes</text>
<text x="15.30" y="93.90" font-size="5.7" fill="#222" text-anchor="start" font-weight="normal" >normal</text>
<circle cx="31.84" cy="82.06" r="1.25" fill="none" stroke="#d8b0aa" stroke-width="0.62"/>
<circle cx="34.11" cy="81.03" r="1.25" fill="none" stroke="#d8b0aa" stroke-width="0.62"/>
<circle cx="35.07" cy="78.70" r="1.25" fill="none" stroke="#d8b0aa" stroke-width="0.62"/>
<circle cx="37.49" cy="78.14" r="1.25" fill="none" stroke="#d8b0aa" stroke-width="0.62"/>
<circle cx="39.14" cy="76.26" r="1.25" fill="none" stroke="#d8b0aa" stroke-width="0.62"/>
<circle cx="41.63" cy="76.50" r="1.25" fill="none" stroke="#d8b0aa" stroke-width="0.62"/>
<circle cx="43.63" cy="74.97" r="1.25" fill="none" stroke="#d8b0aa" stroke-width="0.62"/>
<circle cx="46.01" cy="75.69" r="1.25" fill="none" stroke="#d8b0aa" stroke-width="0.62"/>
<circle cx="48.40" cy="74.98" r="1.25" fill="none" stroke="#d8b0aa" stroke-width="0.62"/>
<circle cx="50.31" cy="76.61" r="1.25" fill="none" stroke="#d8b0aa" stroke-width="0.62"/>
<circle cx="52.81" cy="76.48" r="1.25" fill="none" stroke="#d8b0aa" stroke-width="0.62"/>
<circle cx="54.66" cy="78.16" r="1.25" fill="none" stroke="#d8b0aa" stroke-width="0.62"/>
<circle cx="57.15" cy="77.92" r="1.25" fill="none" stroke="#d8b0aa" stroke-width="0.62"/>
<circle cx="78.25" cy="78.32" r="1.25" fill="none" stroke="#d8b0aa" stroke-width="0.62"/>
<circle cx="80.74" cy="78.55" r="1.25" fill="none" stroke="#d8b0aa" stroke-width="0.62"/>
<circle cx="82.62" cy="76.89" r="1.25" fill="none" stroke="#d8b0aa" stroke-width="0.62"/>
<circle cx="85.11" cy="77.22" r="1.25" fill="none" stroke="#d8b0aa" stroke-width="0.62"/>
<circle cx="87.11" cy="75.71" r="1.25" fill="none" stroke="#d8b0aa" stroke-width="0.62"/>
<circle cx="89.58" cy="76.14" r="1.25" fill="none" stroke="#d8b0aa" stroke-width="0.62"/>
<circle cx="91.48" cy="74.50" r="1.25" fill="none" stroke="#d8b0aa" stroke-width="0.62"/>
<circle cx="93.98" cy="74.65" r="1.25" fill="none" stroke="#d8b0aa" stroke-width="0.62"/>
<circle cx="62.87" cy="87.84" r="1.25" fill="none" stroke="#d8b0aa" stroke-width="0.62"/>
<circle cx="60.58" cy="88.86" r="1.25" fill="none" stroke="#d8b0aa" stroke-width="0.62"/>
<circle cx="59.76" cy="91.23" r="1.25" fill="none" stroke="#d8b0aa" stroke-width="0.62"/>
<circle cx="57.47" cy="92.25" r="1.25" fill="none" stroke="#d8b0aa" stroke-width="0.62"/>
<circle cx="56.65" cy="94.62" r="1.25" fill="none" stroke="#d8b0aa" stroke-width="0.62"/>
<circle cx="54.34" cy="95.62" r="1.25" fill="none" stroke="#d8b0aa" stroke-width="0.62"/>
<circle cx="53.51" cy="97.98" r="1.25" fill="none" stroke="#d8b0aa" stroke-width="0.62"/>
<circle cx="51.22" cy="99.00" r="1.25" fill="none" stroke="#d8b0aa" stroke-width="0.62"/>
<circle cx="50.43" cy="101.39" r="1.25" fill="none" stroke="#d8b0aa" stroke-width="0.62"/>
<circle cx="48.14" cy="102.43" r="1.25" fill="none" stroke="#d8b0aa" stroke-width="0.62"/>
<circle cx="47.44" cy="104.83" r="1.25" fill="none" stroke="#d8b0aa" stroke-width="0.62"/>
<circle cx="45.31" cy="106.16" r="1.25" fill="none" stroke="#d8b0aa" stroke-width="0.62"/>
<circle cx="45.11" cy="108.66" r="1.25" fill="none" stroke="#d8b0aa" stroke-width="0.62"/>
<circle cx="43.35" cy="110.45" r="1.25" fill="none" stroke="#d8b0aa" stroke-width="0.62"/>
<circle cx="43.89" cy="112.89" r="1.25" fill="none" stroke="#d8b0aa" stroke-width="0.62"/>
<circle cx="42.92" cy="115.19" r="1.25" fill="none" stroke="#d8b0aa" stroke-width="0.62"/>
<circle cx="44.32" cy="117.27" r="1.25" fill="none" stroke="#d8b0aa" stroke-width="0.62"/>
<circle cx="44.06" cy="119.77" r="1.25" fill="none" stroke="#d8b0aa" stroke-width="0.62"/>
<circle cx="45.91" cy="121.45" r="1.25" fill="none" stroke="#d8b0aa" stroke-width="0.62"/>
<circle cx="46.31" cy="123.93" r="1.25" fill="none" stroke="#d8b0aa" stroke-width="0.62"/>
<circle cx="48.58" cy="125.00" r="1.25" fill="none" stroke="#d8b0aa" stroke-width="0.62"/>
<circle cx="49.62" cy="127.28" r="1.25" fill="none" stroke="#d8b0aa" stroke-width="0.62"/>
<circle cx="52.06" cy="127.84" r="1.25" fill="none" stroke="#d8b0aa" stroke-width="0.62"/>
<circle cx="53.53" cy="129.87" r="1.25" fill="none" stroke="#d8b0aa" stroke-width="0.62"/>
<circle cx="56.03" cy="130.00" r="1.25" fill="none" stroke="#d8b0aa" stroke-width="0.62"/>
<circle cx="57.80" cy="131.77" r="1.25" fill="none" stroke="#d8b0aa" stroke-width="0.62"/>
<circle cx="60.27" cy="131.38" r="1.25" fill="none" stroke="#d8b0aa" stroke-width="0.62"/>
<circle cx="62.45" cy="132.61" r="1.25" fill="none" stroke="#d8b0aa" stroke-width="0.62"/>
<circle cx="64.73" cy="131.57" r="1.25" fill="none" stroke="#d8b0aa" stroke-width="0.62"/>
<circle cx="67.14" cy="132.27" r="1.25" fill="none" stroke="#d8b0aa" stroke-width="0.62"/>
<circle cx="69.14" cy="130.76" r="1.25" fill="none" stroke="#d8b0aa" stroke-width="0.62"/>
<circle cx="71.64" cy="130.87" r="1.25" fill="none" stroke="#d8b0aa" stroke-width="0.62"/>
<circle cx="73.22" cy="128.93" r="1.25" fill="none" stroke="#d8b0aa" stroke-width="0.62"/>
<circle cx="75.69" cy="128.52" r="1.25" fill="none" stroke="#d8b0aa" stroke-width="0.62"/>
<circle cx="76.89" cy="126.31" r="1.25" fill="none" stroke="#d8b0aa" stroke-width="0.62"/>
<circle cx="79.25" cy="125.47" r="1.25" fill="none" stroke="#d8b0aa" stroke-width="0.62"/>
<circle cx="80.00" cy="123.07" r="1.25" fill="none" stroke="#d8b0aa" stroke-width="0.62"/>
<circle cx="82.16" cy="121.80" r="1.25" fill="none" stroke="#d8b0aa" stroke-width="0.62"/>
<circle cx="82.51" cy="119.32" r="1.25" fill="none" stroke="#d8b0aa" stroke-width="0.62"/>
<circle cx="84.42" cy="117.70" r="1.25" fill="none" stroke="#d8b0aa" stroke-width="0.62"/>
<circle cx="84.28" cy="115.20" r="1.25" fill="none" stroke="#d8b0aa" stroke-width="0.62"/>
<circle cx="85.74" cy="113.17" r="1.25" fill="none" stroke="#d8b0aa" stroke-width="0.62"/>
<circle cx="84.90" cy="110.81" r="1.25" fill="none" stroke="#d8b0aa" stroke-width="0.62"/>
<circle cx="85.65" cy="108.43" r="1.25" fill="none" stroke="#d8b0aa" stroke-width="0.62"/>
<circle cx="84.15" cy="106.42" r="1.25" fill="none" stroke="#d8b0aa" stroke-width="0.62"/>
<circle cx="84.38" cy="103.92" r="1.25" fill="none" stroke="#d8b0aa" stroke-width="0.62"/>
<circle cx="82.60" cy="102.17" r="1.25" fill="none" stroke="#d8b0aa" stroke-width="0.62"/>
<circle cx="82.41" cy="99.68" r="1.25" fill="none" stroke="#d8b0aa" stroke-width="0.62"/>
<circle cx="80.35" cy="98.24" r="1.25" fill="none" stroke="#d8b0aa" stroke-width="0.62"/>
<circle cx="79.95" cy="95.77" r="1.25" fill="none" stroke="#d8b0aa" stroke-width="0.62"/>
<circle cx="77.83" cy="94.43" r="1.25" fill="none" stroke="#d8b0aa" stroke-width="0.62"/>
<circle cx="77.26" cy="91.99" r="1.25" fill="none" stroke="#d8b0aa" stroke-width="0.62"/>
<circle cx="75.07" cy="90.76" r="1.25" fill="none" stroke="#d8b0aa" stroke-width="0.62"/>
<circle cx="74.47" cy="88.32" r="1.25" fill="none" stroke="#d8b0aa" stroke-width="0.62"/>
<circle cx="57.70" cy="78.60" r="1.3" fill="#fff" stroke="#8a9a9a" stroke-width="0.6"/>
<circle cx="61.30" cy="79.30" r="1.3" fill="#fff" stroke="#8a9a9a" stroke-width="0.6"/>
<circle cx="62.00" cy="87.40" r="1.3" fill="#fff" stroke="#8a9a9a" stroke-width="0.6"/>
<ellipse cx="63.7" cy="83.0" rx="1.6" ry="2.0" fill="#84504a"/>
<rect x="71.10" y="81.60" width="7.1" height="2.1" fill="#2f7f86"/>
<line x1="74.65" y1="81.60" x2="74.65" y2="83.70" stroke="#bfe" stroke-width="0.4"/>
<rect x="68.00" y="84.40" width="7.7" height="2.1" fill="#2f7f86"/>
<line x1="71.85" y1="84.40" x2="71.85" y2="86.50" stroke="#bfe" stroke-width="0.4"/>
<text x="12.30" y="193.40" font-size="5.6" fill="#222" text-anchor="start" font-weight="normal" >&#8710;HS -40</text>
<circle cx="1.00" cy="177.80" r="1.25" fill="none" stroke="#d8b0aa" stroke-width="0.62"/>
<circle cx="3.41" cy="177.16" r="1.25" fill="none" stroke="#d8b0aa" stroke-width="0.62"/>
<circle cx="4.63" cy="174.96" r="1.25" fill="none" stroke="#d8b0aa" stroke-width="0.62"/>
<circle cx="7.09" cy="174.53" r="1.25" fill="none" stroke="#d8b0aa" stroke-width="0.62"/>
<circle cx="8.70" cy="172.61" r="1.25" fill="none" stroke="#d8b0aa" stroke-width="0.62"/>
<circle cx="11.20" cy="172.70" r="1.25" fill="none" stroke="#d8b0aa" stroke-width="0.62"/>
<circle cx="13.06" cy="171.02" r="1.25" fill="none" stroke="#d8b0aa" stroke-width="0.62"/>
<circle cx="15.55" cy="171.30" r="1.25" fill="none" stroke="#d8b0aa" stroke-width="0.62"/>
<circle cx="17.53" cy="169.76" r="1.25" fill="none" stroke="#d8b0aa" stroke-width="0.62"/>
<circle cx="19.98" cy="170.31" r="1.25" fill="none" stroke="#d8b0aa" stroke-width="0.62"/>
<circle cx="22.17" cy="169.12" r="1.25" fill="none" stroke="#d8b0aa" stroke-width="0.62"/>
<circle cx="24.49" cy="170.10" r="1.25" fill="none" stroke="#d8b0aa" stroke-width="0.62"/>
<circle cx="33.30" cy="173.60" r="1.25" fill="none" stroke="#d8b0aa" stroke-width="0.62"/>
<circle cx="34.54" cy="175.78" r="1.25" fill="none" stroke="#d8b0aa" stroke-width="0.62"/>
<circle cx="36.98" cy="176.35" r="1.25" fill="none" stroke="#d8b0aa" stroke-width="0.62"/>
<circle cx="38.24" cy="178.52" r="1.25" fill="none" stroke="#d8b0aa" stroke-width="0.62"/>
<circle cx="40.68" cy="179.08" r="1.25" fill="none" stroke="#d8b0aa" stroke-width="0.62"/>
<circle cx="41.97" cy="181.23" r="1.25" fill="none" stroke="#d8b0aa" stroke-width="0.62"/>
<circle cx="44.44" cy="181.69" r="1.25" fill="none" stroke="#d8b0aa" stroke-width="0.62"/>
<circle cx="45.86" cy="183.75" r="1.25" fill="none" stroke="#d8b0aa" stroke-width="0.62"/>
<circle cx="48.35" cy="184.06" r="1.25" fill="none" stroke="#d8b0aa" stroke-width="0.62"/>
<circle cx="49.85" cy="186.07" r="1.25" fill="none" stroke="#d8b0aa" stroke-width="0.62"/>
<circle cx="52.34" cy="186.32" r="1.25" fill="none" stroke="#d8b0aa" stroke-width="0.62"/>
<circle cx="53.88" cy="188.30" r="1.25" fill="none" stroke="#d8b0aa" stroke-width="0.62"/>
<circle cx="56.38" cy="188.47" r="1.25" fill="none" stroke="#d8b0aa" stroke-width="0.62"/>
<circle cx="58.03" cy="190.36" r="1.25" fill="none" stroke="#d8b0aa" stroke-width="0.62"/>
<circle cx="60.54" cy="190.37" r="1.25" fill="none" stroke="#d8b0aa" stroke-width="0.62"/>
<circle cx="62.33" cy="192.13" r="1.25" fill="none" stroke="#d8b0aa" stroke-width="0.62"/>
<circle cx="64.82" cy="191.84" r="1.25" fill="none" stroke="#d8b0aa" stroke-width="0.62"/>
<circle cx="66.81" cy="193.36" r="1.25" fill="none" stroke="#d8b0aa" stroke-width="0.62"/>
<circle cx="69.27" cy="192.86" r="1.25" fill="none" stroke="#d8b0aa" stroke-width="0.62"/>
<circle cx="71.38" cy="194.21" r="1.25" fill="none" stroke="#d8b0aa" stroke-width="0.62"/>
<circle cx="73.74" cy="193.40" r="1.25" fill="none" stroke="#d8b0aa" stroke-width="0.62"/>
<circle cx="76.11" cy="194.21" r="1.25" fill="none" stroke="#d8b0aa" stroke-width="0.62"/>
<circle cx="78.14" cy="192.72" r="1.25" fill="none" stroke="#d8b0aa" stroke-width="0.62"/>
<circle cx="80.60" cy="193.19" r="1.25" fill="none" stroke="#d8b0aa" stroke-width="0.62"/>
<circle cx="82.66" cy="191.76" r="1.25" fill="none" stroke="#d8b0aa" stroke-width="0.62"/>
<circle cx="85.13" cy="192.23" r="1.25" fill="none" stroke="#d8b0aa" stroke-width="0.62"/>
<circle cx="87.06" cy="190.62" r="1.25" fill="none" stroke="#d8b0aa" stroke-width="0.62"/>
<circle cx="89.56" cy="190.79" r="1.25" fill="none" stroke="#d8b0aa" stroke-width="0.62"/>
<circle cx="91.32" cy="189.01" r="1.25" fill="none" stroke="#d8b0aa" stroke-width="0.62"/>
<circle cx="93.83" cy="189.04" r="1.25" fill="none" stroke="#d8b0aa" stroke-width="0.62"/>
<circle cx="95.55" cy="187.22" r="1.25" fill="none" stroke="#d8b0aa" stroke-width="0.62"/>
<circle cx="98.06" cy="187.21" r="1.25" fill="none" stroke="#d8b0aa" stroke-width="0.62"/>
<circle cx="99.75" cy="185.36" r="1.25" fill="none" stroke="#d8b0aa" stroke-width="0.62"/>
<circle cx="102.26" cy="185.32" r="1.25" fill="none" stroke="#d8b0aa" stroke-width="0.62"/>
<circle cx="103.94" cy="183.46" r="1.25" fill="none" stroke="#d8b0aa" stroke-width="0.62"/>
<circle cx="114.85" cy="180.52" r="1.25" fill="none" stroke="#d8b0aa" stroke-width="0.62"/>
<circle cx="117.34" cy="180.76" r="1.25" fill="none" stroke="#d8b0aa" stroke-width="0.62"/>
<circle cx="119.27" cy="179.15" r="1.25" fill="none" stroke="#d8b0aa" stroke-width="0.62"/>
<circle cx="121.71" cy="179.78" r="1.25" fill="none" stroke="#d8b0aa" stroke-width="0.62"/>
<circle cx="123.93" cy="178.64" r="1.25" fill="none" stroke="#d8b0aa" stroke-width="0.62"/>
<circle cx="26.90" cy="170.10" r="1.3" fill="#fff" stroke="#8a9a9a" stroke-width="0.6"/>
<circle cx="30.60" cy="172.60" r="1.3" fill="#fff" stroke="#8a9a9a" stroke-width="0.6"/>
<circle cx="37.50" cy="177.40" r="1.3" fill="#fff" stroke="#8a9a9a" stroke-width="0.6"/>
<rect x="105.50" y="179.10" width="2.6" height="3.75" rx="1.1" fill="#5a9098" stroke="#3a5a60" stroke-width="0.4"/>
<rect x="105.50" y="183.45" width="2.6" height="3.75" rx="1.1" fill="#5a9098" stroke="#3a5a60" stroke-width="0.4"/>
<rect x="110.90" y="177.80" width="2.6" height="3.40" rx="1.1" fill="#5a9098" stroke="#3a5a60" stroke-width="0.4"/>
<rect x="110.90" y="181.80" width="2.6" height="3.40" rx="1.1" fill="#5a9098" stroke="#3a5a60" stroke-width="0.4"/>
<text x="10.50" y="264.90" font-size="5.7" fill="#222" text-anchor="start" font-weight="normal" >3'HS -40</text>
<circle cx="35.86" cy="252.14" r="1.25" fill="none" stroke="#d8b0aa" stroke-width="0.62"/>
<circle cx="38.18" cy="251.24" r="1.25" fill="none" stroke="#d8b0aa" stroke-width="0.62"/>
<circle cx="39.23" cy="248.96" r="1.25" fill="none" stroke="#d8b0aa" stroke-width="0.62"/>
<circle cx="41.68" cy="248.37" r="1.25" fill="none" stroke="#d8b0aa" stroke-width="0.62"/>
<circle cx="43.12" cy="246.30" r="1.25" fill="none" stroke="#d8b0aa" stroke-width="0.62"/>
<circle cx="45.59" cy="246.58" r="1.25" fill="none" stroke="#d8b0aa" stroke-width="0.62"/>
<circle cx="47.83" cy="245.48" r="1.25" fill="none" stroke="#d8b0aa" stroke-width="0.62"/>
<circle cx="50.07" cy="246.63" r="1.25" fill="none" stroke="#d8b0aa" stroke-width="0.62"/>
<circle cx="52.46" cy="245.84" r="1.25" fill="none" stroke="#d8b0aa" stroke-width="0.62"/>
<circle cx="54.62" cy="247.12" r="1.25" fill="none" stroke="#d8b0aa" stroke-width="0.62"/>
<circle cx="57.04" cy="246.49" r="1.25" fill="none" stroke="#d8b0aa" stroke-width="0.62"/>
<circle cx="59.14" cy="247.87" r="1.25" fill="none" stroke="#d8b0aa" stroke-width="0.62"/>
<circle cx="61.62" cy="247.38" r="1.25" fill="none" stroke="#d8b0aa" stroke-width="0.62"/>
<circle cx="82.12" cy="248.23" r="1.25" fill="none" stroke="#d8b0aa" stroke-width="0.62"/>
<circle cx="84.62" cy="248.32" r="1.25" fill="none" stroke="#d8b0aa" stroke-width="0.62"/>
<circle cx="86.40" cy="246.55" r="1.25" fill="none" stroke="#d8b0aa" stroke-width="0.62"/>
<circle cx="88.91" cy="246.72" r="1.25" fill="none" stroke="#d8b0aa" stroke-width="0.62"/>
<circle cx="90.81" cy="245.09" r="1.25" fill="none" stroke="#d8b0aa" stroke-width="0.62"/>
<circle cx="93.29" cy="245.44" r="1.25" fill="none" stroke="#d8b0aa" stroke-width="0.62"/>
<circle cx="95.28" cy="243.92" r="1.25" fill="none" stroke="#d8b0aa" stroke-width="0.62"/>
<circle cx="97.75" cy="244.39" r="1.25" fill="none" stroke="#d8b0aa" stroke-width="0.62"/>
<circle cx="65.77" cy="259.92" r="1.25" fill="none" stroke="#d8b0aa" stroke-width="0.62"/>
<circle cx="63.30" cy="260.33" r="1.25" fill="none" stroke="#d8b0aa" stroke-width="0.62"/>
<circle cx="61.90" cy="262.41" r="1.25" fill="none" stroke="#d8b0aa" stroke-width="0.62"/>
<circle cx="59.42" cy="262.77" r="1.25" fill="none" stroke="#d8b0aa" stroke-width="0.62"/>
<circle cx="57.92" cy="264.77" r="1.25" fill="none" stroke="#d8b0aa" stroke-width="0.62"/>
<circle cx="55.42" cy="265.03" r="1.25" fill="none" stroke="#d8b0aa" stroke-width="0.62"/>
<circle cx="54.00" cy="267.10" r="1.25" fill="none" stroke="#d8b0aa" stroke-width="0.62"/>
<circle cx="51.53" cy="267.58" r="1.25" fill="none" stroke="#d8b0aa" stroke-width="0.62"/>
<circle cx="50.55" cy="269.88" r="1.25" fill="none" stroke="#d8b0aa" stroke-width="0.62"/>
<circle cx="48.46" cy="271.24" r="1.25" fill="none" stroke="#d8b0aa" stroke-width="0.62"/>
<circle cx="48.36" cy="273.75" r="1.25" fill="none" stroke="#d8b0aa" stroke-width="0.62"/>
<circle cx="46.61" cy="275.56" r="1.25" fill="none" stroke="#d8b0aa" stroke-width="0.62"/>
<circle cx="46.96" cy="278.03" r="1.25" fill="none" stroke="#d8b0aa" stroke-width="0.62"/>
<circle cx="45.59" cy="280.14" r="1.25" fill="none" stroke="#d8b0aa" stroke-width="0.62"/>
<circle cx="46.61" cy="282.41" r="1.25" fill="none" stroke="#d8b0aa" stroke-width="0.62"/>
<circle cx="46.15" cy="284.88" r="1.25" fill="none" stroke="#d8b0aa" stroke-width="0.62"/>
<circle cx="47.96" cy="286.61" r="1.25" fill="none" stroke="#d8b0aa" stroke-width="0.62"/>
<circle cx="48.31" cy="289.10" r="1.25" fill="none" stroke="#d8b0aa" stroke-width="0.62"/>
<circle cx="50.56" cy="290.21" r="1.25" fill="none" stroke="#d8b0aa" stroke-width="0.62"/>
<circle cx="51.54" cy="292.51" r="1.25" fill="none" stroke="#d8b0aa" stroke-width="0.62"/>
<circle cx="53.94" cy="293.23" r="1.25" fill="none" stroke="#d8b0aa" stroke-width="0.62"/>
<circle cx="55.13" cy="295.44" r="1.25" fill="none" stroke="#d8b0aa" stroke-width="0.62"/>
<circle cx="57.59" cy="295.95" r="1.25" fill="none" stroke="#d8b0aa" stroke-width="0.62"/>
<circle cx="59.01" cy="298.01" r="1.25" fill="none" stroke="#d8b0aa" stroke-width="0.62"/>
<circle cx="61.51" cy="298.25" r="1.25" fill="none" stroke="#d8b0aa" stroke-width="0.62"/>
<circle cx="63.12" cy="300.18" r="1.25" fill="none" stroke="#d8b0aa" stroke-width="0.62"/>
<circle cx="65.62" cy="300.14" r="1.25" fill="none" stroke="#d8b0aa" stroke-width="0.62"/>
<circle cx="67.63" cy="301.65" r="1.25" fill="none" stroke="#d8b0aa" stroke-width="0.62"/>
<circle cx="69.90" cy="300.61" r="1.25" fill="none" stroke="#d8b0aa" stroke-width="0.62"/>
<circle cx="72.35" cy="301.07" r="1.25" fill="none" stroke="#d8b0aa" stroke-width="0.62"/>
<circle cx="74.26" cy="299.44" r="1.25" fill="none" stroke="#d8b0aa" stroke-width="0.62"/>
<circle cx="76.77" cy="299.58" r="1.25" fill="none" stroke="#d8b0aa" stroke-width="0.62"/>
<circle cx="78.36" cy="297.66" r="1.25" fill="none" stroke="#d8b0aa" stroke-width="0.62"/>
<circle cx="80.81" cy="297.12" r="1.25" fill="none" stroke="#d8b0aa" stroke-width="0.62"/>
<circle cx="81.76" cy="294.80" r="1.25" fill="none" stroke="#d8b0aa" stroke-width="0.62"/>
<circle cx="84.01" cy="293.68" r="1.25" fill="none" stroke="#d8b0aa" stroke-width="0.62"/>
<circle cx="84.57" cy="291.24" r="1.25" fill="none" stroke="#d8b0aa" stroke-width="0.62"/>
<circle cx="86.68" cy="289.88" r="1.25" fill="none" stroke="#d8b0aa" stroke-width="0.62"/>
<circle cx="86.95" cy="287.39" r="1.25" fill="none" stroke="#d8b0aa" stroke-width="0.62"/>
<circle cx="88.79" cy="285.67" r="1.25" fill="none" stroke="#d8b0aa" stroke-width="0.62"/>
<circle cx="88.30" cy="283.22" r="1.25" fill="none" stroke="#d8b0aa" stroke-width="0.62"/>
<circle cx="89.32" cy="280.94" r="1.25" fill="none" stroke="#d8b0aa" stroke-width="0.62"/>
<circle cx="88.12" cy="278.73" r="1.25" fill="none" stroke="#d8b0aa" stroke-width="0.62"/>
<circle cx="88.83" cy="276.32" r="1.25" fill="none" stroke="#d8b0aa" stroke-width="0.62"/>
<circle cx="87.38" cy="274.28" r="1.25" fill="none" stroke="#d8b0aa" stroke-width="0.62"/>
<circle cx="87.59" cy="271.78" r="1.25" fill="none" stroke="#d8b0aa" stroke-width="0.62"/>
<circle cx="85.68" cy="270.15" r="1.25" fill="none" stroke="#d8b0aa" stroke-width="0.62"/>
<circle cx="85.36" cy="267.66" r="1.25" fill="none" stroke="#d8b0aa" stroke-width="0.62"/>
<circle cx="83.26" cy="266.31" r="1.25" fill="none" stroke="#d8b0aa" stroke-width="0.62"/>
<circle cx="82.58" cy="263.91" r="1.25" fill="none" stroke="#d8b0aa" stroke-width="0.62"/>
<circle cx="80.32" cy="262.81" r="1.25" fill="none" stroke="#d8b0aa" stroke-width="0.62"/>
<circle cx="79.94" cy="260.36" r="1.25" fill="none" stroke="#d8b0aa" stroke-width="0.62"/>
<circle cx="78.36" cy="258.44" r="1.25" fill="none" stroke="#d8b0aa" stroke-width="0.62"/>
<circle cx="63.60" cy="248.70" r="1.3" fill="#fff" stroke="#8a9a9a" stroke-width="0.6"/>
<circle cx="67.30" cy="251.40" r="1.3" fill="#fff" stroke="#8a9a9a" stroke-width="0.6"/>
<circle cx="66.10" cy="256.20" r="1.3" fill="#fff" stroke="#8a9a9a" stroke-width="0.6"/>
<circle cx="79.60" cy="249.00" r="1.6" fill="#8a4a40"/>
<circle cx="81.6" cy="251.0" r="1.1" fill="#fff" stroke="#9a9a9a" stroke-width="0.5"/>
<rect x="71.60" y="253.40" width="7.2" height="2.0" fill="#3a8a92"/>
<line x1="75.20" y1="253.40" x2="75.20" y2="255.40" stroke="#bfe" stroke-width="0.4"/>
<rect x="74.20" y="250.60" width="2.6" height="1.6" fill="#3a8a92"/>
<line x1="75.50" y1="250.60" x2="75.50" y2="252.20" stroke="#bfe" stroke-width="0.4"/>
</svg>
</body></html>
